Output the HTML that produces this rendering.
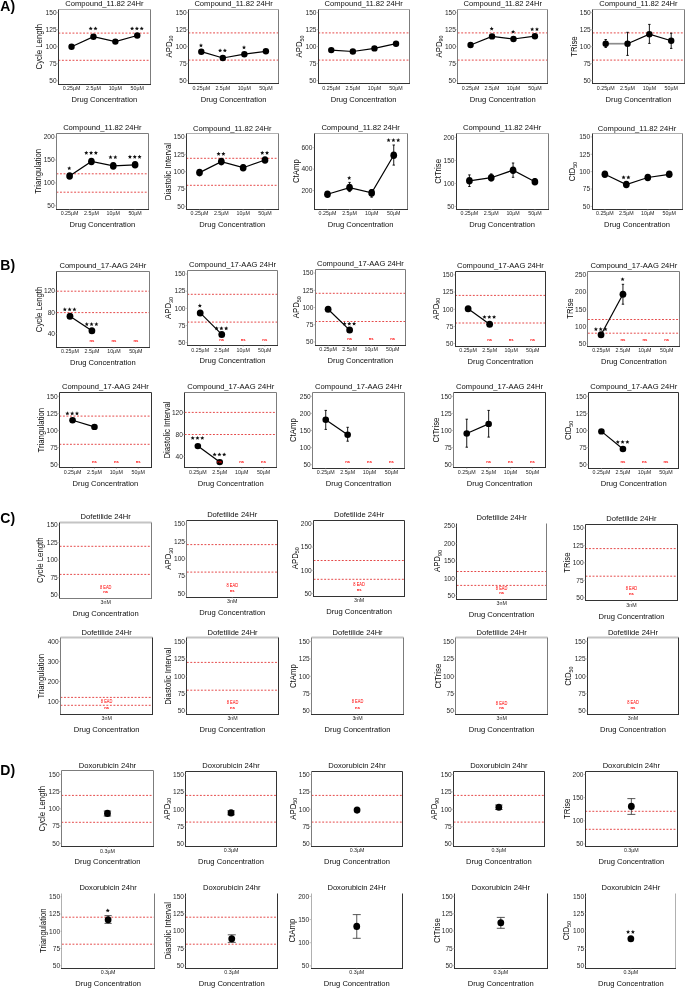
<!DOCTYPE html>
<html><head><meta charset="utf-8"><title>Figure</title>
<style>
html,body{margin:0;padding:0;background:#fff;}
body{width:685px;height:988px;overflow:hidden;}
svg{display:block;will-change:transform;}
text{font-family:"Liberation Sans",sans-serif;fill:#0d0d0d;}
.pl{font-size:14px;font-weight:bold;fill:#000;}
.ti{font-size:7.6px;text-anchor:middle;}
.yt{font-size:7.6px;text-anchor:end;fill:#262626;}
.xt{font-size:5.3px;text-anchor:middle;fill:#262626;}
.xa{font-size:7.6px;text-anchor:middle;}
.yl{font-size:8.5px;text-anchor:middle;}
.st{font-size:9.5px;text-anchor:middle;letter-spacing:1.3px;fill:#111;}
.ead{font-size:4.6px;text-anchor:middle;fill:#ff0000;}
.ns{font-size:4.2px;text-anchor:middle;fill:#ff0000;font-weight:bold;}
.fr{fill:none;stroke:#777;stroke-width:0.9;}
.ax{stroke:#333;stroke-width:1;}
.ay{stroke:#555;stroke-width:0.9;}
.tk{stroke:#999;stroke-width:0.6;}
.rd{stroke:#e23636;stroke-width:0.9;stroke-dasharray:1.9 1.63;}
.ln{fill:none;stroke:#000;stroke-width:1.2;}
.eb{fill:none;stroke:#000;stroke-width:0.9;}
.ebD{fill:none;stroke:#3a3a3a;stroke-width:0.85;}
ellipse{fill:#000;}
.sp{fill:#111;}
</style></head><body>
<svg width="685" height="988" viewBox="0 0 685 988">
<text x="0.3" y="10.9" class="pl">A)</text>
<text x="0.3" y="270.1" class="pl">B)</text>
<text x="0.3" y="523.2" class="pl">C)</text>
<text x="0.3" y="775.1" class="pl">D)</text>
<text x="104.4" y="5.9" class="ti">Compound_11.82 24Hr</text>
<line x1="58.4" x2="150.4" y1="33.1" y2="33.1" class="rd"/>
<line x1="58.4" x2="150.4" y1="60.3" y2="60.3" class="rd"/>
<line x1="58.5" x2="150.5" y1="9.5" y2="9.5" stroke="#b0b0b0" stroke-width="1.0"/>
<line x1="150.5" x2="150.5" y1="9.5" y2="84.5" stroke="#7c7c7c" stroke-width="1.0"/>
<line x1="58.5" x2="58.5" y1="9.5" y2="84.5" stroke="#333333" stroke-width="1.0"/>
<line x1="58" x2="151" y1="84.5" y2="84.5" stroke="#333333" stroke-width="1.0"/>
<line x1="56.9" x2="58.4" y1="12.6" y2="12.6" class="tk"/>
<text x="56.6" y="14.85" class="yt" textLength="11.01" lengthAdjust="spacingAndGlyphs">150</text>
<line x1="56.9" x2="58.4" y1="29.65" y2="29.65" class="tk"/>
<text x="56.6" y="31.9" class="yt" textLength="11.01" lengthAdjust="spacingAndGlyphs">125</text>
<line x1="56.9" x2="58.4" y1="46.7" y2="46.7" class="tk"/>
<text x="56.6" y="48.95" class="yt" textLength="11.01" lengthAdjust="spacingAndGlyphs">100</text>
<line x1="56.9" x2="58.4" y1="63.75" y2="63.75" class="tk"/>
<text x="56.6" y="66" class="yt" textLength="7.34" lengthAdjust="spacingAndGlyphs">75</text>
<line x1="56.9" x2="58.4" y1="80.8" y2="80.8" class="tk"/>
<text x="56.6" y="83.05" class="yt" textLength="7.34" lengthAdjust="spacingAndGlyphs">50</text>
<line x1="71.54" x2="71.54" y1="84.2" y2="85.4" class="tk"/>
<text x="71.54" y="90.1" class="xt">0.25µM</text>
<line x1="93.45" x2="93.45" y1="84.2" y2="85.4" class="tk"/>
<text x="93.45" y="90.1" class="xt">2.5µM</text>
<line x1="115.35" x2="115.35" y1="84.2" y2="85.4" class="tk"/>
<text x="115.35" y="90.1" class="xt">10µM</text>
<line x1="137.26" x2="137.26" y1="84.2" y2="85.4" class="tk"/>
<text x="137.26" y="90.1" class="xt">50µM</text>
<text x="104.4" y="102" class="xa">Drug Concentration</text>
<text transform="translate(41.95 46.7) rotate(-90)" class="yl" textLength="45.53" lengthAdjust="spacingAndGlyphs">Cycle Length</text>
<polyline points="71.54,46.7 93.45,36.7 115.35,41.6 137.26,35.5" class="ln"/>
<ellipse cx="71.54" cy="46.7" rx="3.2" ry="3.2"/>
<ellipse cx="93.45" cy="36.7" rx="3.2" ry="3.2"/>
<ellipse cx="115.35" cy="41.6" rx="3.2" ry="3.2"/>
<ellipse cx="137.26" cy="35.5" rx="3.2" ry="3.2"/>
<polygon points="90.70,26.45 91.29,27.79 92.74,27.94 91.65,28.91 91.96,30.34 90.70,29.60 89.43,30.34 89.75,28.91 88.65,27.94 90.11,27.79" class="sp"/>
<polygon points="95.50,26.45 96.09,27.79 97.54,27.94 96.45,28.91 96.76,30.34 95.50,29.60 94.23,30.34 94.55,28.91 93.45,27.94 94.91,27.79" class="sp"/>
<polygon points="132.11,26.45 132.69,27.79 134.15,27.94 133.06,28.91 133.37,30.34 132.11,29.60 130.84,30.34 131.16,28.91 130.06,27.94 131.52,27.79" class="sp"/>
<polygon points="136.91,26.45 137.49,27.79 138.95,27.94 137.86,28.91 138.17,30.34 136.91,29.60 135.64,30.34 135.96,28.91 134.86,27.94 136.32,27.79" class="sp"/>
<polygon points="141.71,26.45 142.29,27.79 143.75,27.94 142.66,28.91 142.97,30.34 141.71,29.60 140.44,30.34 140.76,28.91 139.66,27.94 141.12,27.79" class="sp"/>
<text x="233.6" y="5.9" class="ti">Compound_11.82 24Hr</text>
<line x1="188.4" x2="278.8" y1="32.9" y2="32.9" class="rd"/>
<line x1="188.4" x2="278.8" y1="60.1" y2="60.1" class="rd"/>
<line x1="188.5" x2="278.5" y1="9.5" y2="9.5" stroke="#b0b0b0" stroke-width="1.0"/>
<line x1="278.5" x2="278.5" y1="9.5" y2="83.5" stroke="#7c7c7c" stroke-width="1.0"/>
<line x1="188.5" x2="188.5" y1="9.5" y2="83.5" stroke="#333333" stroke-width="1.0"/>
<line x1="188" x2="279" y1="83.5" y2="83.5" stroke="#333333" stroke-width="1.0"/>
<line x1="186.9" x2="188.4" y1="12.6" y2="12.6" class="tk"/>
<text x="186.6" y="14.85" class="yt" textLength="11.01" lengthAdjust="spacingAndGlyphs">150</text>
<line x1="186.9" x2="188.4" y1="29.6" y2="29.6" class="tk"/>
<text x="186.6" y="31.85" class="yt" textLength="11.01" lengthAdjust="spacingAndGlyphs">125</text>
<line x1="186.9" x2="188.4" y1="46.6" y2="46.6" class="tk"/>
<text x="186.6" y="48.85" class="yt" textLength="11.01" lengthAdjust="spacingAndGlyphs">100</text>
<line x1="186.9" x2="188.4" y1="63.6" y2="63.6" class="tk"/>
<text x="186.6" y="65.85" class="yt" textLength="7.34" lengthAdjust="spacingAndGlyphs">75</text>
<line x1="186.9" x2="188.4" y1="80.6" y2="80.6" class="tk"/>
<text x="186.6" y="82.85" class="yt" textLength="7.34" lengthAdjust="spacingAndGlyphs">50</text>
<line x1="201.31" x2="201.31" y1="83.8" y2="85" class="tk"/>
<text x="201.31" y="89.7" class="xt">0.25µM</text>
<line x1="222.84" x2="222.84" y1="83.8" y2="85" class="tk"/>
<text x="222.84" y="89.7" class="xt">2.5µM</text>
<line x1="244.36" x2="244.36" y1="83.8" y2="85" class="tk"/>
<text x="244.36" y="89.7" class="xt">10µM</text>
<line x1="265.89" x2="265.89" y1="83.8" y2="85" class="tk"/>
<text x="265.89" y="89.7" class="xt">50µM</text>
<text x="233.6" y="101.6" class="xa">Drug Concentration</text>
<text transform="translate(171.5 46.5) rotate(-90)" class="yl" textLength="21.94" lengthAdjust="spacingAndGlyphs">APD<tspan dy="1.7" font-size="5.78">30</tspan></text>
<polyline points="201.31,51.7 222.84,58 244.36,54.2 265.89,51.3" class="ln"/>
<ellipse cx="201.31" cy="51.7" rx="3.2" ry="3.2"/>
<ellipse cx="222.84" cy="58" rx="3.2" ry="3.2"/>
<ellipse cx="244.36" cy="54.2" rx="3.2" ry="3.2"/>
<ellipse cx="265.89" cy="51.3" rx="3.2" ry="3.2"/>
<polygon points="200.96,43.35 201.55,44.69 203.01,44.84 201.92,45.81 202.23,47.24 200.96,46.50 199.70,47.24 200.01,45.81 198.92,44.84 200.38,44.69" class="sp"/>
<polygon points="220.09,48.45 220.68,49.79 222.13,49.94 221.04,50.91 221.35,52.34 220.09,51.60 218.82,52.34 219.14,50.91 218.04,49.94 219.50,49.79" class="sp"/>
<polygon points="224.89,48.45 225.48,49.79 226.93,49.94 225.84,50.91 226.15,52.34 224.89,51.60 223.62,52.34 223.94,50.91 222.84,49.94 224.30,49.79" class="sp"/>
<polygon points="244.01,45.35 244.60,46.69 246.06,46.84 244.96,47.81 245.28,49.24 244.01,48.50 242.75,49.24 243.06,47.81 241.97,46.84 243.42,46.69" class="sp"/>
<text x="363.65" y="5.9" class="ti">Compound_11.82 24Hr</text>
<line x1="318.3" x2="409" y1="32.9" y2="32.9" class="rd"/>
<line x1="318.3" x2="409" y1="60.1" y2="60.1" class="rd"/>
<line x1="318.5" x2="409.5" y1="9.5" y2="9.5" stroke="#b0b0b0" stroke-width="1.0"/>
<line x1="409.5" x2="409.5" y1="9.5" y2="83.5" stroke="#7c7c7c" stroke-width="1.0"/>
<line x1="318.5" x2="318.5" y1="9.5" y2="83.5" stroke="#333333" stroke-width="1.0"/>
<line x1="318" x2="410" y1="83.5" y2="83.5" stroke="#333333" stroke-width="1.0"/>
<line x1="316.8" x2="318.3" y1="12.6" y2="12.6" class="tk"/>
<text x="316.5" y="14.85" class="yt" textLength="11.01" lengthAdjust="spacingAndGlyphs">150</text>
<line x1="316.8" x2="318.3" y1="29.6" y2="29.6" class="tk"/>
<text x="316.5" y="31.85" class="yt" textLength="11.01" lengthAdjust="spacingAndGlyphs">125</text>
<line x1="316.8" x2="318.3" y1="46.6" y2="46.6" class="tk"/>
<text x="316.5" y="48.85" class="yt" textLength="11.01" lengthAdjust="spacingAndGlyphs">100</text>
<line x1="316.8" x2="318.3" y1="63.6" y2="63.6" class="tk"/>
<text x="316.5" y="65.85" class="yt" textLength="7.34" lengthAdjust="spacingAndGlyphs">75</text>
<line x1="316.8" x2="318.3" y1="80.6" y2="80.6" class="tk"/>
<text x="316.5" y="82.85" class="yt" textLength="7.34" lengthAdjust="spacingAndGlyphs">50</text>
<line x1="331.26" x2="331.26" y1="83.8" y2="85" class="tk"/>
<text x="331.26" y="89.7" class="xt">0.25µM</text>
<line x1="352.85" x2="352.85" y1="83.8" y2="85" class="tk"/>
<text x="352.85" y="89.7" class="xt">2.5µM</text>
<line x1="374.45" x2="374.45" y1="83.8" y2="85" class="tk"/>
<text x="374.45" y="89.7" class="xt">10µM</text>
<line x1="396.04" x2="396.04" y1="83.8" y2="85" class="tk"/>
<text x="396.04" y="89.7" class="xt">50µM</text>
<text x="363.65" y="101.6" class="xa">Drug Concentration</text>
<text transform="translate(302.3 46.5) rotate(-90)" class="yl" textLength="21.94" lengthAdjust="spacingAndGlyphs">APD<tspan dy="1.7" font-size="5.78">50</tspan></text>
<polyline points="331.26,50.1 352.85,51.5 374.45,48.4 396.04,43.7" class="ln"/>
<ellipse cx="331.26" cy="50.1" rx="3.2" ry="3.2"/>
<ellipse cx="352.85" cy="51.5" rx="3.2" ry="3.2"/>
<ellipse cx="374.45" cy="48.4" rx="3.2" ry="3.2"/>
<ellipse cx="396.04" cy="43.7" rx="3.2" ry="3.2"/>
<text x="502.75" y="5.9" class="ti">Compound_11.82 24Hr</text>
<line x1="457.7" x2="547.8" y1="32.9" y2="32.9" class="rd"/>
<line x1="457.7" x2="547.8" y1="60.1" y2="60.1" class="rd"/>
<line x1="457.5" x2="547.5" y1="9.5" y2="9.5" stroke="#b0b0b0" stroke-width="1.0"/>
<line x1="547.5" x2="547.5" y1="9.5" y2="83.5" stroke="#7c7c7c" stroke-width="1.0"/>
<line x1="457.5" x2="457.5" y1="9.5" y2="83.5" stroke="#7c7c7c" stroke-width="1.0"/>
<line x1="457" x2="548" y1="83.5" y2="83.5" stroke="#333333" stroke-width="1.0"/>
<line x1="456.2" x2="457.7" y1="12.6" y2="12.6" class="tk"/>
<text x="455.9" y="14.85" class="yt" textLength="11.01" lengthAdjust="spacingAndGlyphs">150</text>
<line x1="456.2" x2="457.7" y1="29.6" y2="29.6" class="tk"/>
<text x="455.9" y="31.85" class="yt" textLength="11.01" lengthAdjust="spacingAndGlyphs">125</text>
<line x1="456.2" x2="457.7" y1="46.6" y2="46.6" class="tk"/>
<text x="455.9" y="48.85" class="yt" textLength="11.01" lengthAdjust="spacingAndGlyphs">100</text>
<line x1="456.2" x2="457.7" y1="63.6" y2="63.6" class="tk"/>
<text x="455.9" y="65.85" class="yt" textLength="7.34" lengthAdjust="spacingAndGlyphs">75</text>
<line x1="456.2" x2="457.7" y1="80.6" y2="80.6" class="tk"/>
<text x="455.9" y="82.85" class="yt" textLength="7.34" lengthAdjust="spacingAndGlyphs">50</text>
<line x1="470.57" x2="470.57" y1="83.8" y2="85" class="tk"/>
<text x="470.57" y="89.7" class="xt">0.25µM</text>
<line x1="492.02" x2="492.02" y1="83.8" y2="85" class="tk"/>
<text x="492.02" y="89.7" class="xt">2.5µM</text>
<line x1="513.48" x2="513.48" y1="83.8" y2="85" class="tk"/>
<text x="513.48" y="89.7" class="xt">10µM</text>
<line x1="534.93" x2="534.93" y1="83.8" y2="85" class="tk"/>
<text x="534.93" y="89.7" class="xt">50µM</text>
<text x="502.75" y="101.6" class="xa">Drug Concentration</text>
<text transform="translate(441.6 46.5) rotate(-90)" class="yl" textLength="21.94" lengthAdjust="spacingAndGlyphs">APD<tspan dy="1.7" font-size="5.78">90</tspan></text>
<polyline points="470.57,45 492.02,36.4 513.48,39 534.93,36.2" class="ln"/>
<ellipse cx="470.57" cy="45" rx="3.2" ry="3.2"/>
<ellipse cx="492.02" cy="36.4" rx="3.2" ry="3.2"/>
<ellipse cx="513.48" cy="39" rx="3.2" ry="3.2"/>
<ellipse cx="534.93" cy="36.2" rx="3.2" ry="3.2"/>
<polygon points="491.67,26.55 492.26,27.89 493.72,28.04 492.62,29.01 492.94,30.44 491.67,29.70 490.41,30.44 490.72,29.01 489.63,28.04 491.09,27.89" class="sp"/>
<polygon points="513.13,29.65 513.71,30.99 515.17,31.14 514.08,32.11 514.39,33.54 513.13,32.80 511.86,33.54 512.18,32.11 511.08,31.14 512.54,30.99" class="sp"/>
<polygon points="532.18,27.15 532.77,28.49 534.22,28.64 533.13,29.61 533.44,31.04 532.18,30.30 530.91,31.04 531.23,29.61 530.13,28.64 531.59,28.49" class="sp"/>
<polygon points="536.98,27.15 537.57,28.49 539.02,28.64 537.93,29.61 538.24,31.04 536.98,30.30 535.71,31.04 536.03,29.61 534.93,28.64 536.39,28.49" class="sp"/>
<text x="638.45" y="5.9" class="ti">Compound_11.82 24Hr</text>
<line x1="592.6" x2="684.3" y1="32.9" y2="32.9" class="rd"/>
<line x1="592.6" x2="684.3" y1="60.1" y2="60.1" class="rd"/>
<line x1="592.5" x2="684.5" y1="9.5" y2="9.5" stroke="#b0b0b0" stroke-width="1.0"/>
<line x1="684.5" x2="684.5" y1="9.5" y2="83.5" stroke="#7c7c7c" stroke-width="1.0"/>
<line x1="592.5" x2="592.5" y1="9.5" y2="83.5" stroke="#333333" stroke-width="1.0"/>
<line x1="592" x2="685" y1="83.5" y2="83.5" stroke="#333333" stroke-width="1.0"/>
<line x1="591.1" x2="592.6" y1="12.6" y2="12.6" class="tk"/>
<text x="590.8" y="14.85" class="yt" textLength="11.01" lengthAdjust="spacingAndGlyphs">150</text>
<line x1="591.1" x2="592.6" y1="29.6" y2="29.6" class="tk"/>
<text x="590.8" y="31.85" class="yt" textLength="11.01" lengthAdjust="spacingAndGlyphs">125</text>
<line x1="591.1" x2="592.6" y1="46.6" y2="46.6" class="tk"/>
<text x="590.8" y="48.85" class="yt" textLength="11.01" lengthAdjust="spacingAndGlyphs">100</text>
<line x1="591.1" x2="592.6" y1="63.6" y2="63.6" class="tk"/>
<text x="590.8" y="65.85" class="yt" textLength="7.34" lengthAdjust="spacingAndGlyphs">75</text>
<line x1="591.1" x2="592.6" y1="80.6" y2="80.6" class="tk"/>
<text x="590.8" y="82.85" class="yt" textLength="7.34" lengthAdjust="spacingAndGlyphs">50</text>
<line x1="605.7" x2="605.7" y1="83.8" y2="85" class="tk"/>
<text x="605.7" y="89.7" class="xt">0.25µM</text>
<line x1="627.53" x2="627.53" y1="83.8" y2="85" class="tk"/>
<text x="627.53" y="89.7" class="xt">2.5µM</text>
<line x1="649.37" x2="649.37" y1="83.8" y2="85" class="tk"/>
<text x="649.37" y="89.7" class="xt">10µM</text>
<line x1="671.2" x2="671.2" y1="83.8" y2="85" class="tk"/>
<text x="671.2" y="89.7" class="xt">50µM</text>
<text x="638.45" y="101.6" class="xa">Drug Concentration</text>
<text transform="translate(577.3 46.5) rotate(-90)" class="yl" textLength="20.37" lengthAdjust="spacingAndGlyphs">TRise</text>
<line x1="605.7" y1="43.7" x2="627.53" y2="43.7" stroke="#8c8c8c" stroke-width="1.7"/>
<polyline points="627.53,43.7 649.37,34.2 671.2,40.8" class="ln"/>
<path d="M605.7 39.5V47.5M604.5 39.5H606.9M604.5 47.5H606.9" class="eb"/>
<path d="M627.53 32.3V55.4M626.33 32.3H628.73M626.33 55.4H628.73" class="eb"/>
<path d="M649.37 24.4V43.4M648.17 24.4H650.57M648.17 43.4H650.57" class="eb"/>
<path d="M671.2 33.2V48.4M670 33.2H672.4M670 48.4H672.4" class="eb"/>
<ellipse cx="605.7" cy="43.7" rx="3.2" ry="3.2"/>
<ellipse cx="627.53" cy="43.7" rx="3.2" ry="3.2"/>
<ellipse cx="649.37" cy="34.2" rx="3.2" ry="3.2"/>
<ellipse cx="671.2" cy="40.8" rx="3.2" ry="3.2"/>
<text x="102.35" y="130.2" class="ti">Compound_11.82 24Hr</text>
<line x1="56.5" x2="148.2" y1="173.8" y2="173.8" class="rd"/>
<line x1="56.5" x2="148.2" y1="192.2" y2="192.2" class="rd"/>
<line x1="56.5" x2="148.5" y1="133.5" y2="133.5" stroke="#7c7c7c" stroke-width="1.0"/>
<line x1="148.5" x2="148.5" y1="133.5" y2="209.5" stroke="#7c7c7c" stroke-width="1.0"/>
<line x1="56.5" x2="56.5" y1="133.5" y2="209.5" stroke="#7c7c7c" stroke-width="1.0"/>
<line x1="56" x2="149" y1="209.5" y2="209.5" stroke="#333333" stroke-width="1.0"/>
<line x1="55" x2="56.5" y1="137.2" y2="137.2" class="tk"/>
<text x="54.7" y="139.45" class="yt" textLength="11.01" lengthAdjust="spacingAndGlyphs">200</text>
<line x1="55" x2="56.5" y1="160.07" y2="160.07" class="tk"/>
<text x="54.7" y="162.32" class="yt" textLength="11.01" lengthAdjust="spacingAndGlyphs">150</text>
<line x1="55" x2="56.5" y1="182.93" y2="182.93" class="tk"/>
<text x="54.7" y="185.18" class="yt" textLength="11.01" lengthAdjust="spacingAndGlyphs">100</text>
<line x1="55" x2="56.5" y1="205.8" y2="205.8" class="tk"/>
<text x="54.7" y="208.05" class="yt" textLength="7.34" lengthAdjust="spacingAndGlyphs">50</text>
<line x1="69.6" x2="69.6" y1="209.2" y2="210.4" class="tk"/>
<text x="69.6" y="215.1" class="xt">0.25µM</text>
<line x1="91.43" x2="91.43" y1="209.2" y2="210.4" class="tk"/>
<text x="91.43" y="215.1" class="xt">2.5µM</text>
<line x1="113.27" x2="113.27" y1="209.2" y2="210.4" class="tk"/>
<text x="113.27" y="215.1" class="xt">10µM</text>
<line x1="135.1" x2="135.1" y1="209.2" y2="210.4" class="tk"/>
<text x="135.1" y="215.1" class="xt">50µM</text>
<text x="102.35" y="227" class="xa">Drug Concentration</text>
<text transform="translate(41.1 171.35) rotate(-90)" class="yl" textLength="44.8" lengthAdjust="spacingAndGlyphs">Triangulation</text>
<polyline points="69.6,176 91.43,161.5 113.27,165.9 135.1,164.8" class="ln"/>
<ellipse cx="69.6" cy="176" rx="3.35" ry="3.8"/>
<ellipse cx="91.43" cy="161.5" rx="3.35" ry="3.8"/>
<ellipse cx="113.27" cy="165.9" rx="3.35" ry="3.8"/>
<ellipse cx="135.1" cy="164.8" rx="3.35" ry="3.8"/>
<polygon points="69.25,166.15 69.84,167.49 71.29,167.64 70.20,168.61 70.51,170.04 69.25,169.30 67.99,170.04 68.30,168.61 67.21,167.64 68.66,167.49" class="sp"/>
<polygon points="86.28,150.75 86.87,152.09 88.33,152.24 87.23,153.21 87.55,154.64 86.28,153.90 85.02,154.64 85.33,153.21 84.24,152.24 85.70,152.09" class="sp"/>
<polygon points="91.08,150.75 91.67,152.09 93.13,152.24 92.03,153.21 92.35,154.64 91.08,153.90 89.82,154.64 90.13,153.21 89.04,152.24 90.50,152.09" class="sp"/>
<polygon points="95.88,150.75 96.47,152.09 97.93,152.24 96.83,153.21 97.15,154.64 95.88,153.90 94.62,154.64 94.93,153.21 93.84,152.24 95.30,152.09" class="sp"/>
<polygon points="110.52,155.05 111.10,156.39 112.56,156.54 111.47,157.51 111.78,158.94 110.52,158.20 109.25,158.94 109.57,157.51 108.47,156.54 109.93,156.39" class="sp"/>
<polygon points="115.32,155.05 115.90,156.39 117.36,156.54 116.27,157.51 116.58,158.94 115.32,158.20 114.05,158.94 114.37,157.51 113.27,156.54 114.73,156.39" class="sp"/>
<polygon points="129.95,154.75 130.54,156.09 131.99,156.24 130.90,157.21 131.21,158.64 129.95,157.90 128.69,158.64 129.00,157.21 127.91,156.24 129.36,156.09" class="sp"/>
<polygon points="134.75,154.75 135.34,156.09 136.79,156.24 135.70,157.21 136.01,158.64 134.75,157.90 133.49,158.64 133.80,157.21 132.71,156.24 134.16,156.09" class="sp"/>
<polygon points="139.55,154.75 140.14,156.09 141.59,156.24 140.50,157.21 140.81,158.64 139.55,157.90 138.29,158.64 138.60,157.21 137.51,156.24 138.96,156.09" class="sp"/>
<text x="232.25" y="130.5" class="ti">Compound_11.82 24Hr</text>
<line x1="186.4" x2="278.1" y1="158.3" y2="158.3" class="rd"/>
<line x1="186.4" x2="278.1" y1="185.3" y2="185.3" class="rd"/>
<line x1="186.5" x2="278.5" y1="133.5" y2="133.5" stroke="#b0b0b0" stroke-width="1.0"/>
<line x1="278.5" x2="278.5" y1="133.5" y2="209.5" stroke="#7c7c7c" stroke-width="1.0"/>
<line x1="186.5" x2="186.5" y1="133.5" y2="209.5" stroke="#333333" stroke-width="1.0"/>
<line x1="186" x2="279" y1="209.5" y2="209.5" stroke="#333333" stroke-width="1.0"/>
<line x1="184.9" x2="186.4" y1="137" y2="137" class="tk"/>
<text x="184.6" y="139.25" class="yt" textLength="11.01" lengthAdjust="spacingAndGlyphs">150</text>
<line x1="184.9" x2="186.4" y1="154.35" y2="154.35" class="tk"/>
<text x="184.6" y="156.6" class="yt" textLength="11.01" lengthAdjust="spacingAndGlyphs">125</text>
<line x1="184.9" x2="186.4" y1="171.7" y2="171.7" class="tk"/>
<text x="184.6" y="173.95" class="yt" textLength="11.01" lengthAdjust="spacingAndGlyphs">100</text>
<line x1="184.9" x2="186.4" y1="189.05" y2="189.05" class="tk"/>
<text x="184.6" y="191.3" class="yt" textLength="7.34" lengthAdjust="spacingAndGlyphs">75</text>
<line x1="184.9" x2="186.4" y1="206.4" y2="206.4" class="tk"/>
<text x="184.6" y="208.65" class="yt" textLength="7.34" lengthAdjust="spacingAndGlyphs">50</text>
<line x1="199.5" x2="199.5" y1="209.4" y2="210.6" class="tk"/>
<text x="199.5" y="215.3" class="xt">0.25µM</text>
<line x1="221.33" x2="221.33" y1="209.4" y2="210.6" class="tk"/>
<text x="221.33" y="215.3" class="xt">2.5µM</text>
<line x1="243.17" x2="243.17" y1="209.4" y2="210.6" class="tk"/>
<text x="243.17" y="215.3" class="xt">10µM</text>
<line x1="265" x2="265" y1="209.4" y2="210.6" class="tk"/>
<text x="265" y="215.3" class="xt">50µM</text>
<text x="232.25" y="227.2" class="xa">Drug Concentration</text>
<text transform="translate(170.7 171.6) rotate(-90)" class="yl" textLength="57.22" lengthAdjust="spacingAndGlyphs">Diastolic Interval</text>
<polyline points="199.5,172.6 221.33,161.6 243.17,167.7 265,160" class="ln"/>
<path d="M243.17 165V170M241.97 165H244.37M241.97 170H244.37" class="eb"/>
<ellipse cx="199.5" cy="172.6" rx="3.35" ry="3.8"/>
<ellipse cx="221.33" cy="161.6" rx="3.35" ry="3.8"/>
<ellipse cx="243.17" cy="167.7" rx="3.35" ry="3.8"/>
<ellipse cx="265" cy="160" rx="3.35" ry="3.8"/>
<polygon points="218.58,151.75 219.17,153.09 220.63,153.24 219.53,154.21 219.85,155.64 218.58,154.90 217.32,155.64 217.63,154.21 216.54,153.24 218.00,153.09" class="sp"/>
<polygon points="223.38,151.75 223.97,153.09 225.43,153.24 224.33,154.21 224.65,155.64 223.38,154.90 222.12,155.64 222.43,154.21 221.34,153.24 222.80,153.09" class="sp"/>
<polygon points="262.25,150.75 262.84,152.09 264.29,152.24 263.20,153.21 263.51,154.64 262.25,153.90 260.99,154.64 261.30,153.21 260.21,152.24 261.66,152.09" class="sp"/>
<polygon points="267.05,150.75 267.64,152.09 269.09,152.24 268.00,153.21 268.31,154.64 267.05,153.90 265.79,154.64 266.10,153.21 265.01,152.24 266.46,152.09" class="sp"/>
<text x="360.6" y="130.1" class="ti">Compound_11.82 24Hr</text>
<line x1="314.5" x2="407.5" y1="133.5" y2="133.5" stroke="#b0b0b0" stroke-width="1.0"/>
<line x1="407.5" x2="407.5" y1="133.5" y2="209.5" stroke="#7c7c7c" stroke-width="1.0"/>
<line x1="314.5" x2="314.5" y1="133.5" y2="209.5" stroke="#333333" stroke-width="1.0"/>
<line x1="314" x2="408" y1="209.5" y2="209.5" stroke="#333333" stroke-width="1.0"/>
<line x1="312.7" x2="314.2" y1="147.7" y2="147.7" class="tk"/>
<text x="312.4" y="149.95" class="yt" textLength="11.01" lengthAdjust="spacingAndGlyphs">600</text>
<line x1="312.7" x2="314.2" y1="169.2" y2="169.2" class="tk"/>
<text x="312.4" y="171.45" class="yt" textLength="11.01" lengthAdjust="spacingAndGlyphs">400</text>
<line x1="312.7" x2="314.2" y1="190.6" y2="190.6" class="tk"/>
<text x="312.4" y="192.85" class="yt" textLength="11.01" lengthAdjust="spacingAndGlyphs">200</text>
<line x1="327.46" x2="327.46" y1="209" y2="210.2" class="tk"/>
<text x="327.46" y="214.9" class="xt">0.25µM</text>
<line x1="349.55" x2="349.55" y1="209" y2="210.2" class="tk"/>
<text x="349.55" y="214.9" class="xt">2.5µM</text>
<line x1="371.65" x2="371.65" y1="209" y2="210.2" class="tk"/>
<text x="371.65" y="214.9" class="xt">10µM</text>
<line x1="393.74" x2="393.74" y1="209" y2="210.2" class="tk"/>
<text x="393.74" y="214.9" class="xt">50µM</text>
<text x="360.6" y="226.8" class="xa">Drug Concentration</text>
<text transform="translate(298.6 171.2) rotate(-90)" class="yl" textLength="23.84" lengthAdjust="spacingAndGlyphs">CtAmp</text>
<polyline points="327.46,194.3 349.55,187.6 371.65,192.9 393.74,155.3" class="ln"/>
<path d="M327.46 192.5V196M326.26 192.5H328.66M326.26 196H328.66" class="eb"/>
<path d="M349.55 182.4V191.6M348.35 182.4H350.75M348.35 191.6H350.75" class="eb"/>
<path d="M371.65 189.6V197.2M370.45 189.6H372.85M370.45 197.2H372.85" class="eb"/>
<path d="M393.74 145V165.1M392.54 145H394.94M392.54 165.1H394.94" class="eb"/>
<ellipse cx="327.46" cy="194.3" rx="3.35" ry="3.8"/>
<ellipse cx="349.55" cy="187.6" rx="3.35" ry="3.8"/>
<ellipse cx="371.65" cy="192.9" rx="3.35" ry="3.8"/>
<ellipse cx="393.74" cy="155.3" rx="3.35" ry="3.8"/>
<polygon points="349.20,175.85 349.79,177.19 351.25,177.34 350.15,178.31 350.47,179.74 349.20,179.00 347.94,179.74 348.25,178.31 347.16,177.34 348.61,177.19" class="sp"/>
<polygon points="388.59,138.05 389.18,139.39 390.64,139.54 389.54,140.51 389.86,141.94 388.59,141.20 387.33,141.94 387.64,140.51 386.55,139.54 388.01,139.39" class="sp"/>
<polygon points="393.39,138.05 393.98,139.39 395.44,139.54 394.34,140.51 394.66,141.94 393.39,141.20 392.13,141.94 392.44,140.51 391.35,139.54 392.81,139.39" class="sp"/>
<polygon points="398.19,138.05 398.78,139.39 400.24,139.54 399.14,140.51 399.46,141.94 398.19,141.20 396.93,141.94 397.24,140.51 396.15,139.54 397.61,139.39" class="sp"/>
<text x="502.15" y="130.1" class="ti">Compound_11.82 24Hr</text>
<line x1="456.5" x2="548.5" y1="133.5" y2="133.5" stroke="#b0b0b0" stroke-width="1.0"/>
<line x1="548.5" x2="548.5" y1="133.5" y2="209.5" stroke="#7c7c7c" stroke-width="1.0"/>
<line x1="456.5" x2="456.5" y1="133.5" y2="209.5" stroke="#333333" stroke-width="1.0"/>
<line x1="456" x2="549" y1="209.5" y2="209.5" stroke="#333333" stroke-width="1.0"/>
<line x1="454.8" x2="456.3" y1="137.5" y2="137.5" class="tk"/>
<text x="454.5" y="139.75" class="yt" textLength="11.01" lengthAdjust="spacingAndGlyphs">200</text>
<line x1="454.8" x2="456.3" y1="160.47" y2="160.47" class="tk"/>
<text x="454.5" y="162.72" class="yt" textLength="11.01" lengthAdjust="spacingAndGlyphs">150</text>
<line x1="454.8" x2="456.3" y1="183.43" y2="183.43" class="tk"/>
<text x="454.5" y="185.68" class="yt" textLength="11.01" lengthAdjust="spacingAndGlyphs">100</text>
<line x1="454.8" x2="456.3" y1="206.4" y2="206.4" class="tk"/>
<text x="454.5" y="208.65" class="yt" textLength="7.34" lengthAdjust="spacingAndGlyphs">50</text>
<line x1="469.4" x2="469.4" y1="209.4" y2="210.6" class="tk"/>
<text x="469.4" y="215.3" class="xt">0.25µM</text>
<line x1="491.23" x2="491.23" y1="209.4" y2="210.6" class="tk"/>
<text x="491.23" y="215.3" class="xt">2.5µM</text>
<line x1="513.07" x2="513.07" y1="209.4" y2="210.6" class="tk"/>
<text x="513.07" y="215.3" class="xt">10µM</text>
<line x1="534.9" x2="534.9" y1="209.4" y2="210.6" class="tk"/>
<text x="534.9" y="215.3" class="xt">50µM</text>
<text x="502.15" y="227.2" class="xa">Drug Concentration</text>
<text transform="translate(441 171.4) rotate(-90)" class="yl" textLength="24.84" lengthAdjust="spacingAndGlyphs">CtTrise</text>
<polyline points="469.4,180.8 491.23,177.7 513.07,170.2 534.9,181.8" class="ln"/>
<path d="M469.4 174.9V186.5M468.2 174.9H470.6M468.2 186.5H470.6" class="eb"/>
<path d="M491.23 173.9V180.8M490.03 173.9H492.43M490.03 180.8H492.43" class="eb"/>
<path d="M513.07 163V177.3M511.87 163H514.27M511.87 177.3H514.27" class="eb"/>
<path d="M534.9 178.5V184.5M533.7 178.5H536.1M533.7 184.5H536.1" class="eb"/>
<ellipse cx="469.4" cy="180.8" rx="3.35" ry="3.8"/>
<ellipse cx="491.23" cy="177.7" rx="3.35" ry="3.8"/>
<ellipse cx="513.07" cy="170.2" rx="3.35" ry="3.8"/>
<ellipse cx="534.9" cy="181.8" rx="3.35" ry="3.8"/>
<text x="637.05" y="130.5" class="ti">Compound_11.82 24Hr</text>
<line x1="592.5" x2="682.5" y1="133.5" y2="133.5" stroke="#b0b0b0" stroke-width="1.0"/>
<line x1="682.5" x2="682.5" y1="133.5" y2="209.5" stroke="#7c7c7c" stroke-width="1.0"/>
<line x1="592.5" x2="592.5" y1="133.5" y2="209.5" stroke="#333333" stroke-width="1.0"/>
<line x1="592" x2="683" y1="209.5" y2="209.5" stroke="#333333" stroke-width="1.0"/>
<line x1="590.5" x2="592" y1="136.9" y2="136.9" class="tk"/>
<text x="590.2" y="139.15" class="yt" textLength="11.01" lengthAdjust="spacingAndGlyphs">150</text>
<line x1="590.5" x2="592" y1="154.28" y2="154.28" class="tk"/>
<text x="590.2" y="156.53" class="yt" textLength="11.01" lengthAdjust="spacingAndGlyphs">125</text>
<line x1="590.5" x2="592" y1="171.65" y2="171.65" class="tk"/>
<text x="590.2" y="173.9" class="yt" textLength="11.01" lengthAdjust="spacingAndGlyphs">100</text>
<line x1="590.5" x2="592" y1="189.03" y2="189.03" class="tk"/>
<text x="590.2" y="191.28" class="yt" textLength="7.34" lengthAdjust="spacingAndGlyphs">75</text>
<line x1="590.5" x2="592" y1="206.4" y2="206.4" class="tk"/>
<text x="590.2" y="208.65" class="yt" textLength="7.34" lengthAdjust="spacingAndGlyphs">50</text>
<line x1="604.87" x2="604.87" y1="209.4" y2="210.6" class="tk"/>
<text x="604.87" y="215.3" class="xt">0.25µM</text>
<line x1="626.32" x2="626.32" y1="209.4" y2="210.6" class="tk"/>
<text x="626.32" y="215.3" class="xt">2.5µM</text>
<line x1="647.78" x2="647.78" y1="209.4" y2="210.6" class="tk"/>
<text x="647.78" y="215.3" class="xt">10µM</text>
<line x1="669.23" x2="669.23" y1="209.4" y2="210.6" class="tk"/>
<text x="669.23" y="215.3" class="xt">50µM</text>
<text x="637.05" y="227.2" class="xa">Drug Concentration</text>
<text transform="translate(575 171.6) rotate(-90)" class="yl" textLength="19.33" lengthAdjust="spacingAndGlyphs">CtD<tspan dy="1.7" font-size="5.78">50</tspan></text>
<polyline points="604.87,174.3 626.32,184.5 647.78,177.5 669.23,174.3" class="ln"/>
<ellipse cx="604.87" cy="174.3" rx="3.35" ry="3.8"/>
<ellipse cx="626.32" cy="184.5" rx="3.35" ry="3.8"/>
<ellipse cx="647.78" cy="177.5" rx="3.35" ry="3.8"/>
<ellipse cx="669.23" cy="174.3" rx="3.35" ry="3.8"/>
<polygon points="623.57,175.25 624.16,176.59 625.62,176.74 624.52,177.71 624.84,179.14 623.57,178.40 622.31,179.14 622.62,177.71 621.53,176.74 622.99,176.59" class="sp"/>
<polygon points="628.37,175.25 628.96,176.59 630.42,176.74 629.32,177.71 629.64,179.14 628.37,178.40 627.11,179.14 627.42,177.71 626.33,176.74 627.79,176.59" class="sp"/>
<text x="102.9" y="268.2" class="ti">Compound_17-AAG 24Hr</text>
<line x1="56.8" x2="149" y1="291.2" y2="291.2" class="rd"/>
<line x1="56.8" x2="149" y1="312.6" y2="312.6" class="rd"/>
<line x1="56.5" x2="149.5" y1="271.5" y2="271.5" stroke="#7c7c7c" stroke-width="1.0"/>
<line x1="149.5" x2="149.5" y1="271.5" y2="347.5" stroke="#7c7c7c" stroke-width="1.0"/>
<line x1="56.5" x2="56.5" y1="271.5" y2="347.5" stroke="#333333" stroke-width="1.0"/>
<line x1="56" x2="150" y1="347.5" y2="347.5" stroke="#333333" stroke-width="1.0"/>
<line x1="55.3" x2="56.8" y1="291.2" y2="291.2" class="tk"/>
<text x="55" y="293.45" class="yt" textLength="11.01" lengthAdjust="spacingAndGlyphs">120</text>
<line x1="55.3" x2="56.8" y1="312.6" y2="312.6" class="tk"/>
<text x="55" y="314.85" class="yt" textLength="7.34" lengthAdjust="spacingAndGlyphs">80</text>
<line x1="55.3" x2="56.8" y1="333.6" y2="333.6" class="tk"/>
<text x="55" y="335.85" class="yt" textLength="7.34" lengthAdjust="spacingAndGlyphs">40</text>
<line x1="69.97" x2="69.97" y1="347.4" y2="348.6" class="tk"/>
<text x="69.97" y="353.3" class="xt">0.25µM</text>
<line x1="91.92" x2="91.92" y1="347.4" y2="348.6" class="tk"/>
<text x="91.92" y="353.3" class="xt">2.5µM</text>
<line x1="113.88" x2="113.88" y1="347.4" y2="348.6" class="tk"/>
<text x="113.88" y="353.3" class="xt">10µM</text>
<line x1="135.83" x2="135.83" y1="347.4" y2="348.6" class="tk"/>
<text x="135.83" y="353.3" class="xt">50µM</text>
<text x="102.9" y="365.2" class="xa">Drug Concentration</text>
<text transform="translate(42.05 309.45) rotate(-90)" class="yl" textLength="45.53" lengthAdjust="spacingAndGlyphs">Cycle Length</text>
<polyline points="69.97,316.2 91.92,330.7" class="ln"/>
<ellipse cx="69.97" cy="316.2" rx="3.4" ry="3.5"/>
<ellipse cx="91.92" cy="330.7" rx="3.4" ry="3.5"/>
<polygon points="64.82,307.35 65.41,308.69 66.87,308.84 65.77,309.81 66.09,311.24 64.82,310.50 63.56,311.24 63.87,309.81 62.78,308.84 64.23,308.69" class="sp"/>
<polygon points="69.62,307.35 70.21,308.69 71.67,308.84 70.57,309.81 70.89,311.24 69.62,310.50 68.36,311.24 68.67,309.81 67.58,308.84 69.03,308.69" class="sp"/>
<polygon points="74.42,307.35 75.01,308.69 76.47,308.84 75.37,309.81 75.69,311.24 74.42,310.50 73.16,311.24 73.47,309.81 72.38,308.84 73.83,308.69" class="sp"/>
<polygon points="86.77,322.05 87.36,323.39 88.82,323.54 87.72,324.51 88.04,325.94 86.77,325.20 85.51,325.94 85.82,324.51 84.73,323.54 86.19,323.39" class="sp"/>
<polygon points="91.57,322.05 92.16,323.39 93.62,323.54 92.52,324.51 92.84,325.94 91.57,325.20 90.31,325.94 90.62,324.51 89.53,323.54 90.99,323.39" class="sp"/>
<polygon points="96.37,322.05 96.96,323.39 98.42,323.54 97.32,324.51 97.64,325.94 96.37,325.20 95.11,325.94 95.42,324.51 94.33,323.54 95.79,323.39" class="sp"/>
<text x="91.92" y="342.1" class="ns">ns</text>
<text x="113.88" y="342.1" class="ns">ns</text>
<text x="135.83" y="342.1" class="ns">ns</text>
<text x="232.5" y="267.1" class="ti">Compound_17-AAG 24Hr</text>
<line x1="187.3" x2="277.7" y1="294.3" y2="294.3" class="rd"/>
<line x1="187.3" x2="277.7" y1="322.1" y2="322.1" class="rd"/>
<line x1="187.5" x2="277.5" y1="270.5" y2="270.5" stroke="#7c7c7c" stroke-width="1.0"/>
<line x1="277.5" x2="277.5" y1="270.5" y2="345.5" stroke="#7c7c7c" stroke-width="1.0"/>
<line x1="187.5" x2="187.5" y1="270.5" y2="345.5" stroke="#7c7c7c" stroke-width="1.0"/>
<line x1="187" x2="278" y1="345.5" y2="345.5" stroke="#333333" stroke-width="1.0"/>
<line x1="185.8" x2="187.3" y1="274.1" y2="274.1" class="tk"/>
<text x="185.5" y="276.35" class="yt" textLength="11.01" lengthAdjust="spacingAndGlyphs">150</text>
<line x1="185.8" x2="187.3" y1="291.23" y2="291.23" class="tk"/>
<text x="185.5" y="293.48" class="yt" textLength="11.01" lengthAdjust="spacingAndGlyphs">125</text>
<line x1="185.8" x2="187.3" y1="308.35" y2="308.35" class="tk"/>
<text x="185.5" y="310.6" class="yt" textLength="11.01" lengthAdjust="spacingAndGlyphs">100</text>
<line x1="185.8" x2="187.3" y1="325.48" y2="325.48" class="tk"/>
<text x="185.5" y="327.73" class="yt" textLength="7.34" lengthAdjust="spacingAndGlyphs">75</text>
<line x1="185.8" x2="187.3" y1="342.6" y2="342.6" class="tk"/>
<text x="185.5" y="344.85" class="yt" textLength="7.34" lengthAdjust="spacingAndGlyphs">50</text>
<line x1="200.21" x2="200.21" y1="345.6" y2="346.8" class="tk"/>
<text x="200.21" y="351.5" class="xt">0.25µM</text>
<line x1="221.74" x2="221.74" y1="345.6" y2="346.8" class="tk"/>
<text x="221.74" y="351.5" class="xt">2.5µM</text>
<line x1="243.26" x2="243.26" y1="345.6" y2="346.8" class="tk"/>
<text x="243.26" y="351.5" class="xt">10µM</text>
<line x1="264.79" x2="264.79" y1="345.6" y2="346.8" class="tk"/>
<text x="264.79" y="351.5" class="xt">50µM</text>
<text x="232.5" y="363.4" class="xa">Drug Concentration</text>
<text transform="translate(171.3 308) rotate(-90)" class="yl" textLength="21.94" lengthAdjust="spacingAndGlyphs">APD<tspan dy="1.7" font-size="5.78">30</tspan></text>
<polyline points="200.21,312.9 221.74,334.4" class="ln"/>
<ellipse cx="200.21" cy="312.9" rx="3.4" ry="3.5"/>
<ellipse cx="221.74" cy="334.4" rx="3.4" ry="3.5"/>
<polygon points="199.86,303.55 200.45,304.89 201.91,305.04 200.82,306.01 201.13,307.44 199.86,306.70 198.60,307.44 198.91,306.01 197.82,305.04 199.28,304.89" class="sp"/>
<polygon points="216.59,326.25 217.18,327.59 218.63,327.74 217.54,328.71 217.85,330.14 216.59,329.40 215.32,330.14 215.64,328.71 214.54,327.74 216.00,327.59" class="sp"/>
<polygon points="221.39,326.25 221.98,327.59 223.43,327.74 222.34,328.71 222.65,330.14 221.39,329.40 220.12,330.14 220.44,328.71 219.34,327.74 220.80,327.59" class="sp"/>
<polygon points="226.19,326.25 226.78,327.59 228.23,327.74 227.14,328.71 227.45,330.14 226.19,329.40 224.92,330.14 225.24,328.71 224.14,327.74 225.60,327.59" class="sp"/>
<text x="221.74" y="340.6" class="ns">ns</text>
<text x="243.26" y="340.6" class="ns">ns</text>
<text x="264.79" y="340.6" class="ns">ns</text>
<text x="360.4" y="266.1" class="ti">Compound_17-AAG 24Hr</text>
<line x1="315.2" x2="405.6" y1="293.3" y2="293.3" class="rd"/>
<line x1="315.2" x2="405.6" y1="321.5" y2="321.5" class="rd"/>
<line x1="315.5" x2="405.5" y1="269.5" y2="269.5" stroke="#7c7c7c" stroke-width="1.0"/>
<line x1="405.5" x2="405.5" y1="269.5" y2="345.5" stroke="#7c7c7c" stroke-width="1.0"/>
<line x1="315.5" x2="315.5" y1="269.5" y2="345.5" stroke="#7c7c7c" stroke-width="1.0"/>
<line x1="315" x2="406" y1="345.5" y2="345.5" stroke="#333333" stroke-width="1.0"/>
<line x1="313.7" x2="315.2" y1="273.1" y2="273.1" class="tk"/>
<text x="313.4" y="275.35" class="yt" textLength="11.01" lengthAdjust="spacingAndGlyphs">150</text>
<line x1="313.7" x2="315.2" y1="290.33" y2="290.33" class="tk"/>
<text x="313.4" y="292.58" class="yt" textLength="11.01" lengthAdjust="spacingAndGlyphs">125</text>
<line x1="313.7" x2="315.2" y1="307.55" y2="307.55" class="tk"/>
<text x="313.4" y="309.8" class="yt" textLength="11.01" lengthAdjust="spacingAndGlyphs">100</text>
<line x1="313.7" x2="315.2" y1="324.77" y2="324.77" class="tk"/>
<text x="313.4" y="327.02" class="yt" textLength="7.34" lengthAdjust="spacingAndGlyphs">75</text>
<line x1="313.7" x2="315.2" y1="342" y2="342" class="tk"/>
<text x="313.4" y="344.25" class="yt" textLength="7.34" lengthAdjust="spacingAndGlyphs">50</text>
<line x1="328.11" x2="328.11" y1="345.2" y2="346.4" class="tk"/>
<text x="328.11" y="351.1" class="xt">0.25µM</text>
<line x1="349.64" x2="349.64" y1="345.2" y2="346.4" class="tk"/>
<text x="349.64" y="351.1" class="xt">2.5µM</text>
<line x1="371.16" x2="371.16" y1="345.2" y2="346.4" class="tk"/>
<text x="371.16" y="351.1" class="xt">10µM</text>
<line x1="392.69" x2="392.69" y1="345.2" y2="346.4" class="tk"/>
<text x="392.69" y="351.1" class="xt">50µM</text>
<text x="360.4" y="363" class="xa">Drug Concentration</text>
<text transform="translate(298.9 307.3) rotate(-90)" class="yl" textLength="21.94" lengthAdjust="spacingAndGlyphs">APD<tspan dy="1.7" font-size="5.78">50</tspan></text>
<polyline points="328.11,309.3 349.64,330.1" class="ln"/>
<ellipse cx="328.11" cy="309.3" rx="3.4" ry="3.5"/>
<ellipse cx="349.64" cy="330.1" rx="3.4" ry="3.5"/>
<polygon points="344.49,321.55 345.08,322.89 346.53,323.04 345.44,324.01 345.75,325.44 344.49,324.70 343.22,325.44 343.54,324.01 342.44,323.04 343.90,322.89" class="sp"/>
<polygon points="349.29,321.55 349.88,322.89 351.33,323.04 350.24,324.01 350.55,325.44 349.29,324.70 348.02,325.44 348.34,324.01 347.24,323.04 348.70,322.89" class="sp"/>
<polygon points="354.09,321.55 354.68,322.89 356.13,323.04 355.04,324.01 355.35,325.44 354.09,324.70 352.82,325.44 353.14,324.01 352.04,323.04 353.50,322.89" class="sp"/>
<text x="349.64" y="339.8" class="ns">ns</text>
<text x="371.16" y="339.8" class="ns">ns</text>
<text x="392.69" y="339.8" class="ns">ns</text>
<text x="500.4" y="267.7" class="ti">Compound_17-AAG 24Hr</text>
<line x1="455.2" x2="545.6" y1="295.4" y2="295.4" class="rd"/>
<line x1="455.2" x2="545.6" y1="323" y2="323" class="rd"/>
<line x1="455.5" x2="545.5" y1="271.5" y2="271.5" stroke="#333333" stroke-width="1.0"/>
<line x1="545.5" x2="545.5" y1="271.5" y2="346.5" stroke="#333333" stroke-width="1.0"/>
<line x1="455.5" x2="455.5" y1="271.5" y2="346.5" stroke="#333333" stroke-width="1.0"/>
<line x1="455" x2="546" y1="346.5" y2="346.5" stroke="#333333" stroke-width="1.0"/>
<line x1="453.7" x2="455.2" y1="274.9" y2="274.9" class="tk"/>
<text x="453.4" y="277.15" class="yt" textLength="11.01" lengthAdjust="spacingAndGlyphs">150</text>
<line x1="453.7" x2="455.2" y1="292.07" y2="292.07" class="tk"/>
<text x="453.4" y="294.32" class="yt" textLength="11.01" lengthAdjust="spacingAndGlyphs">125</text>
<line x1="453.7" x2="455.2" y1="309.25" y2="309.25" class="tk"/>
<text x="453.4" y="311.5" class="yt" textLength="11.01" lengthAdjust="spacingAndGlyphs">100</text>
<line x1="453.7" x2="455.2" y1="326.43" y2="326.43" class="tk"/>
<text x="453.4" y="328.68" class="yt" textLength="7.34" lengthAdjust="spacingAndGlyphs">75</text>
<line x1="453.7" x2="455.2" y1="343.6" y2="343.6" class="tk"/>
<text x="453.4" y="345.85" class="yt" textLength="7.34" lengthAdjust="spacingAndGlyphs">50</text>
<line x1="468.11" x2="468.11" y1="346.5" y2="347.7" class="tk"/>
<text x="468.11" y="352.4" class="xt">0.25µM</text>
<line x1="489.64" x2="489.64" y1="346.5" y2="347.7" class="tk"/>
<text x="489.64" y="352.4" class="xt">2.5µM</text>
<line x1="511.16" x2="511.16" y1="346.5" y2="347.7" class="tk"/>
<text x="511.16" y="352.4" class="xt">10µM</text>
<line x1="532.69" x2="532.69" y1="346.5" y2="347.7" class="tk"/>
<text x="532.69" y="352.4" class="xt">50µM</text>
<text x="500.4" y="364.3" class="xa">Drug Concentration</text>
<text transform="translate(438.7 308.75) rotate(-90)" class="yl" textLength="21.94" lengthAdjust="spacingAndGlyphs">APD<tspan dy="1.7" font-size="5.78">90</tspan></text>
<polyline points="468.11,308.7 489.64,324.2" class="ln"/>
<ellipse cx="468.11" cy="308.7" rx="3.4" ry="3.5"/>
<ellipse cx="489.64" cy="324.2" rx="3.4" ry="3.5"/>
<polygon points="484.49,314.95 485.08,316.29 486.53,316.44 485.44,317.41 485.75,318.84 484.49,318.10 483.22,318.84 483.54,317.41 482.44,316.44 483.90,316.29" class="sp"/>
<polygon points="489.29,314.95 489.88,316.29 491.33,316.44 490.24,317.41 490.55,318.84 489.29,318.10 488.02,318.84 488.34,317.41 487.24,316.44 488.70,316.29" class="sp"/>
<polygon points="494.09,314.95 494.68,316.29 496.13,316.44 495.04,317.41 495.35,318.84 494.09,318.10 492.82,318.84 493.14,317.41 492.04,316.44 493.50,316.29" class="sp"/>
<text x="489.64" y="341.2" class="ns">ns</text>
<text x="511.16" y="341.2" class="ns">ns</text>
<text x="532.69" y="341.2" class="ns">ns</text>
<text x="633.9" y="267.7" class="ti">Compound_17-AAG 24Hr</text>
<line x1="587.9" x2="679.9" y1="319.5" y2="319.5" class="rd"/>
<line x1="587.9" x2="679.9" y1="333.2" y2="333.2" class="rd"/>
<line x1="587.5" x2="679.5" y1="271.5" y2="271.5" stroke="#7c7c7c" stroke-width="1.0"/>
<line x1="679.5" x2="679.5" y1="271.5" y2="346.5" stroke="#7c7c7c" stroke-width="1.0"/>
<line x1="587.5" x2="587.5" y1="271.5" y2="346.5" stroke="#7c7c7c" stroke-width="1.0"/>
<line x1="587" x2="680" y1="346.5" y2="346.5" stroke="#333333" stroke-width="1.0"/>
<line x1="586.4" x2="587.9" y1="275.1" y2="275.1" class="tk"/>
<text x="586.1" y="277.35" class="yt" textLength="11.01" lengthAdjust="spacingAndGlyphs">250</text>
<line x1="586.4" x2="587.9" y1="292.18" y2="292.18" class="tk"/>
<text x="586.1" y="294.43" class="yt" textLength="11.01" lengthAdjust="spacingAndGlyphs">200</text>
<line x1="586.4" x2="587.9" y1="309.25" y2="309.25" class="tk"/>
<text x="586.1" y="311.5" class="yt" textLength="11.01" lengthAdjust="spacingAndGlyphs">150</text>
<line x1="586.4" x2="587.9" y1="326.32" y2="326.32" class="tk"/>
<text x="586.1" y="328.57" class="yt" textLength="11.01" lengthAdjust="spacingAndGlyphs">100</text>
<line x1="586.4" x2="587.9" y1="343.4" y2="343.4" class="tk"/>
<text x="586.1" y="345.65" class="yt" textLength="7.34" lengthAdjust="spacingAndGlyphs">50</text>
<line x1="601.04" x2="601.04" y1="346.1" y2="347.3" class="tk"/>
<text x="601.04" y="352" class="xt">0.25µM</text>
<line x1="622.95" x2="622.95" y1="346.1" y2="347.3" class="tk"/>
<text x="622.95" y="352" class="xt">2.5µM</text>
<line x1="644.85" x2="644.85" y1="346.1" y2="347.3" class="tk"/>
<text x="644.85" y="352" class="xt">10µM</text>
<line x1="666.76" x2="666.76" y1="346.1" y2="347.3" class="tk"/>
<text x="666.76" y="352" class="xt">50µM</text>
<text x="633.9" y="363.9" class="xa">Drug Concentration</text>
<text transform="translate(572.6 308.55) rotate(-90)" class="yl" textLength="20.37" lengthAdjust="spacingAndGlyphs">TRise</text>
<polyline points="601.04,334.8 622.95,294.3" class="ln"/>
<path d="M622.95 284.3V304.2M621.75 284.3H624.15M621.75 304.2H624.15" class="eb"/>
<ellipse cx="601.04" cy="334.8" rx="3.4" ry="3.5"/>
<ellipse cx="622.95" cy="294.3" rx="3.4" ry="3.5"/>
<polygon points="595.89,327.05 596.48,328.39 597.94,328.54 596.84,329.51 597.16,330.94 595.89,330.20 594.63,330.94 594.94,329.51 593.85,328.54 595.31,328.39" class="sp"/>
<polygon points="600.69,327.05 601.28,328.39 602.74,328.54 601.64,329.51 601.96,330.94 600.69,330.20 599.43,330.94 599.74,329.51 598.65,328.54 600.11,328.39" class="sp"/>
<polygon points="605.49,327.05 606.08,328.39 607.54,328.54 606.44,329.51 606.76,330.94 605.49,330.20 604.23,330.94 604.54,329.51 603.45,328.54 604.91,328.39" class="sp"/>
<polygon points="622.60,277.15 623.19,278.49 624.64,278.64 623.55,279.61 623.86,281.04 622.60,280.30 621.33,281.04 621.65,279.61 620.55,278.64 622.01,278.49" class="sp"/>
<text x="622.95" y="341.2" class="ns">ns</text>
<text x="644.85" y="341.2" class="ns">ns</text>
<text x="666.76" y="341.2" class="ns">ns</text>
<text x="105.4" y="389.3" class="ti">Compound_17-AAG 24Hr</text>
<line x1="59.4" x2="151.4" y1="416.1" y2="416.1" class="rd"/>
<line x1="59.4" x2="151.4" y1="444.3" y2="444.3" class="rd"/>
<line x1="59.5" x2="151.5" y1="392.5" y2="392.5" stroke="#333333" stroke-width="1.0"/>
<line x1="151.5" x2="151.5" y1="392.5" y2="467.5" stroke="#333333" stroke-width="1.0"/>
<line x1="59.5" x2="59.5" y1="392.5" y2="467.5" stroke="#333333" stroke-width="1.0"/>
<line x1="59" x2="152" y1="467.5" y2="467.5" stroke="#333333" stroke-width="1.0"/>
<line x1="57.9" x2="59.4" y1="396.3" y2="396.3" class="tk"/>
<text x="57.6" y="398.55" class="yt" textLength="11.01" lengthAdjust="spacingAndGlyphs">150</text>
<line x1="57.9" x2="59.4" y1="413.4" y2="413.4" class="tk"/>
<text x="57.6" y="415.65" class="yt" textLength="11.01" lengthAdjust="spacingAndGlyphs">125</text>
<line x1="57.9" x2="59.4" y1="430.5" y2="430.5" class="tk"/>
<text x="57.6" y="432.75" class="yt" textLength="11.01" lengthAdjust="spacingAndGlyphs">100</text>
<line x1="57.9" x2="59.4" y1="447.6" y2="447.6" class="tk"/>
<text x="57.6" y="449.85" class="yt" textLength="7.34" lengthAdjust="spacingAndGlyphs">75</text>
<line x1="57.9" x2="59.4" y1="464.7" y2="464.7" class="tk"/>
<text x="57.6" y="466.95" class="yt" textLength="7.34" lengthAdjust="spacingAndGlyphs">50</text>
<line x1="72.54" x2="72.54" y1="467.8" y2="469" class="tk"/>
<text x="72.54" y="473.7" class="xt">0.25µM</text>
<line x1="94.45" x2="94.45" y1="467.8" y2="469" class="tk"/>
<text x="94.45" y="473.7" class="xt">2.5µM</text>
<line x1="116.35" x2="116.35" y1="467.8" y2="469" class="tk"/>
<text x="116.35" y="473.7" class="xt">10µM</text>
<line x1="138.26" x2="138.26" y1="467.8" y2="469" class="tk"/>
<text x="138.26" y="473.7" class="xt">50µM</text>
<text x="105.4" y="485.6" class="xa">Drug Concentration</text>
<text transform="translate(43.8 430.2) rotate(-90)" class="yl" textLength="44.8" lengthAdjust="spacingAndGlyphs">Triangulation</text>
<polyline points="72.54,420.2 94.45,426.9" class="ln"/>
<ellipse cx="72.54" cy="420.2" rx="3.3" ry="3.2"/>
<ellipse cx="94.45" cy="426.9" rx="3.3" ry="3.2"/>
<polygon points="67.39,411.35 67.98,412.69 69.44,412.84 68.34,413.81 68.66,415.24 67.39,414.50 66.13,415.24 66.44,413.81 65.35,412.84 66.81,412.69" class="sp"/>
<polygon points="72.19,411.35 72.78,412.69 74.24,412.84 73.14,413.81 73.46,415.24 72.19,414.50 70.93,415.24 71.24,413.81 70.15,412.84 71.61,412.69" class="sp"/>
<polygon points="76.99,411.35 77.58,412.69 79.04,412.84 77.94,413.81 78.26,415.24 76.99,414.50 75.73,415.24 76.04,413.81 74.95,412.84 76.41,412.69" class="sp"/>
<text x="94.45" y="462.8" class="ns">ns</text>
<text x="116.35" y="462.8" class="ns">ns</text>
<text x="138.26" y="462.8" class="ns">ns</text>
<text x="230.7" y="388.9" class="ti">Compound_17-AAG 24Hr</text>
<line x1="184.7" x2="276.7" y1="412.4" y2="412.4" class="rd"/>
<line x1="184.7" x2="276.7" y1="434.5" y2="434.5" class="rd"/>
<line x1="184.5" x2="276.5" y1="392.5" y2="392.5" stroke="#7c7c7c" stroke-width="1.0"/>
<line x1="276.5" x2="276.5" y1="392.5" y2="467.5" stroke="#7c7c7c" stroke-width="1.0"/>
<line x1="184.5" x2="184.5" y1="392.5" y2="467.5" stroke="#333333" stroke-width="1.0"/>
<line x1="184" x2="277" y1="467.5" y2="467.5" stroke="#333333" stroke-width="1.0"/>
<line x1="183.2" x2="184.7" y1="412.4" y2="412.4" class="tk"/>
<text x="182.9" y="414.65" class="yt" textLength="11.01" lengthAdjust="spacingAndGlyphs">120</text>
<line x1="183.2" x2="184.7" y1="434.5" y2="434.5" class="tk"/>
<text x="182.9" y="436.75" class="yt" textLength="7.34" lengthAdjust="spacingAndGlyphs">80</text>
<line x1="183.2" x2="184.7" y1="456.4" y2="456.4" class="tk"/>
<text x="182.9" y="458.65" class="yt" textLength="7.34" lengthAdjust="spacingAndGlyphs">40</text>
<line x1="197.84" x2="197.84" y1="467.8" y2="469" class="tk"/>
<text x="197.84" y="473.7" class="xt">0.25µM</text>
<line x1="219.75" x2="219.75" y1="467.8" y2="469" class="tk"/>
<text x="219.75" y="473.7" class="xt">2.5µM</text>
<line x1="241.65" x2="241.65" y1="467.8" y2="469" class="tk"/>
<text x="241.65" y="473.7" class="xt">10µM</text>
<line x1="263.56" x2="263.56" y1="467.8" y2="469" class="tk"/>
<text x="263.56" y="473.7" class="xt">50µM</text>
<text x="230.7" y="485.6" class="xa">Drug Concentration</text>
<text transform="translate(170 430) rotate(-90)" class="yl" textLength="57.22" lengthAdjust="spacingAndGlyphs">Diastolic Interval</text>
<polyline points="197.84,446.1 219.75,462.1" class="ln"/>
<ellipse cx="197.84" cy="446.1" rx="3.3" ry="3.2"/>
<ellipse cx="219.75" cy="462.1" rx="3.3" ry="3.2"/>
<polygon points="192.69,435.95 193.28,437.29 194.74,437.44 193.64,438.41 193.96,439.84 192.69,439.10 191.43,439.84 191.74,438.41 190.65,437.44 192.11,437.29" class="sp"/>
<polygon points="197.49,435.95 198.08,437.29 199.54,437.44 198.44,438.41 198.76,439.84 197.49,439.10 196.23,439.84 196.54,438.41 195.45,437.44 196.91,437.29" class="sp"/>
<polygon points="202.29,435.95 202.88,437.29 204.34,437.44 203.24,438.41 203.56,439.84 202.29,439.10 201.03,439.84 201.34,438.41 200.25,437.44 201.71,437.29" class="sp"/>
<polygon points="214.60,452.45 215.19,453.79 216.64,453.94 215.55,454.91 215.86,456.34 214.60,455.60 213.33,456.34 213.65,454.91 212.55,453.94 214.01,453.79" class="sp"/>
<polygon points="219.40,452.45 219.99,453.79 221.44,453.94 220.35,454.91 220.66,456.34 219.40,455.60 218.13,456.34 218.45,454.91 217.35,453.94 218.81,453.79" class="sp"/>
<polygon points="224.20,452.45 224.79,453.79 226.24,453.94 225.15,454.91 225.46,456.34 224.20,455.60 222.93,456.34 223.25,454.91 222.15,453.94 223.61,453.79" class="sp"/>
<text x="219.75" y="462.8" class="ns">ns</text>
<text x="241.65" y="462.8" class="ns">ns</text>
<text x="263.56" y="462.8" class="ns">ns</text>
<text x="358.6" y="388.9" class="ti">Compound_17-AAG 24Hr</text>
<line x1="312.5" x2="404.5" y1="392.5" y2="392.5" stroke="#7c7c7c" stroke-width="1.0"/>
<line x1="404.5" x2="404.5" y1="392.5" y2="468.5" stroke="#7c7c7c" stroke-width="1.0"/>
<line x1="312.5" x2="312.5" y1="392.5" y2="468.5" stroke="#7c7c7c" stroke-width="1.0"/>
<line x1="312" x2="405" y1="468.5" y2="468.5" stroke="#333333" stroke-width="1.0"/>
<line x1="311.1" x2="312.6" y1="396.3" y2="396.3" class="tk"/>
<text x="310.8" y="398.55" class="yt" textLength="11.01" lengthAdjust="spacingAndGlyphs">250</text>
<line x1="311.1" x2="312.6" y1="413.4" y2="413.4" class="tk"/>
<text x="310.8" y="415.65" class="yt" textLength="11.01" lengthAdjust="spacingAndGlyphs">200</text>
<line x1="311.1" x2="312.6" y1="430.5" y2="430.5" class="tk"/>
<text x="310.8" y="432.75" class="yt" textLength="11.01" lengthAdjust="spacingAndGlyphs">150</text>
<line x1="311.1" x2="312.6" y1="447.6" y2="447.6" class="tk"/>
<text x="310.8" y="449.85" class="yt" textLength="11.01" lengthAdjust="spacingAndGlyphs">100</text>
<line x1="311.1" x2="312.6" y1="464.7" y2="464.7" class="tk"/>
<text x="310.8" y="466.95" class="yt" textLength="7.34" lengthAdjust="spacingAndGlyphs">50</text>
<line x1="325.74" x2="325.74" y1="468.2" y2="469.4" class="tk"/>
<text x="325.74" y="474.1" class="xt">0.25µM</text>
<line x1="347.65" x2="347.65" y1="468.2" y2="469.4" class="tk"/>
<text x="347.65" y="474.1" class="xt">2.5µM</text>
<line x1="369.55" x2="369.55" y1="468.2" y2="469.4" class="tk"/>
<text x="369.55" y="474.1" class="xt">10µM</text>
<line x1="391.46" x2="391.46" y1="468.2" y2="469.4" class="tk"/>
<text x="391.46" y="474.1" class="xt">50µM</text>
<text x="358.6" y="486" class="xa">Drug Concentration</text>
<text transform="translate(296.4 430.2) rotate(-90)" class="yl" textLength="23.84" lengthAdjust="spacingAndGlyphs">CtAmp</text>
<polyline points="325.74,419.8 347.65,434.7" class="ln"/>
<path d="M325.74 410.4V429.4M324.54 410.4H326.94M324.54 429.4H326.94" class="eb"/>
<path d="M347.65 427.3V441.2M346.45 427.3H348.85M346.45 441.2H348.85" class="eb"/>
<ellipse cx="325.74" cy="419.8" rx="3.3" ry="3.2"/>
<ellipse cx="347.65" cy="434.7" rx="3.3" ry="3.2"/>
<text x="347.65" y="462.8" class="ns">ns</text>
<text x="369.55" y="462.8" class="ns">ns</text>
<text x="391.46" y="462.8" class="ns">ns</text>
<text x="499.6" y="388.9" class="ti">Compound_17-AAG 24Hr</text>
<line x1="453.5" x2="545.5" y1="392.5" y2="392.5" stroke="#333333" stroke-width="1.0"/>
<line x1="545.5" x2="545.5" y1="392.5" y2="467.5" stroke="#333333" stroke-width="1.0"/>
<line x1="453.5" x2="453.5" y1="392.5" y2="467.5" stroke="#7c7c7c" stroke-width="1.0"/>
<line x1="453" x2="546" y1="467.5" y2="467.5" stroke="#333333" stroke-width="1.0"/>
<line x1="452.1" x2="453.6" y1="396.3" y2="396.3" class="tk"/>
<text x="451.8" y="398.55" class="yt" textLength="11.01" lengthAdjust="spacingAndGlyphs">150</text>
<line x1="452.1" x2="453.6" y1="413.4" y2="413.4" class="tk"/>
<text x="451.8" y="415.65" class="yt" textLength="11.01" lengthAdjust="spacingAndGlyphs">125</text>
<line x1="452.1" x2="453.6" y1="430.5" y2="430.5" class="tk"/>
<text x="451.8" y="432.75" class="yt" textLength="11.01" lengthAdjust="spacingAndGlyphs">100</text>
<line x1="452.1" x2="453.6" y1="447.6" y2="447.6" class="tk"/>
<text x="451.8" y="449.85" class="yt" textLength="7.34" lengthAdjust="spacingAndGlyphs">75</text>
<line x1="452.1" x2="453.6" y1="464.7" y2="464.7" class="tk"/>
<text x="451.8" y="466.95" class="yt" textLength="7.34" lengthAdjust="spacingAndGlyphs">50</text>
<line x1="466.74" x2="466.74" y1="467.8" y2="469" class="tk"/>
<text x="466.74" y="473.7" class="xt">0.25µM</text>
<line x1="488.65" x2="488.65" y1="467.8" y2="469" class="tk"/>
<text x="488.65" y="473.7" class="xt">2.5µM</text>
<line x1="510.55" x2="510.55" y1="467.8" y2="469" class="tk"/>
<text x="510.55" y="473.7" class="xt">10µM</text>
<line x1="532.46" x2="532.46" y1="467.8" y2="469" class="tk"/>
<text x="532.46" y="473.7" class="xt">50µM</text>
<text x="499.6" y="485.6" class="xa">Drug Concentration</text>
<text transform="translate(438.7 430) rotate(-90)" class="yl" textLength="24.84" lengthAdjust="spacingAndGlyphs">CtTrise</text>
<polyline points="466.74,433.5 488.65,423.9" class="ln"/>
<path d="M466.74 419.2V447.2M465.54 419.2H467.94M465.54 447.2H467.94" class="eb"/>
<path d="M488.65 410.4V437.1M487.45 410.4H489.85M487.45 437.1H489.85" class="eb"/>
<ellipse cx="466.74" cy="433.5" rx="3.3" ry="3.2"/>
<ellipse cx="488.65" cy="423.9" rx="3.3" ry="3.2"/>
<text x="488.65" y="462.8" class="ns">ns</text>
<text x="510.55" y="462.8" class="ns">ns</text>
<text x="532.46" y="462.8" class="ns">ns</text>
<text x="633.7" y="389.3" class="ti">Compound_17-AAG 24Hr</text>
<line x1="588.5" x2="678.5" y1="392.5" y2="392.5" stroke="#333333" stroke-width="1.0"/>
<line x1="678.5" x2="678.5" y1="392.5" y2="468.5" stroke="#333333" stroke-width="1.0"/>
<line x1="588.5" x2="588.5" y1="392.5" y2="468.5" stroke="#333333" stroke-width="1.0"/>
<line x1="588" x2="679" y1="468.5" y2="468.5" stroke="#333333" stroke-width="1.0"/>
<line x1="587" x2="588.5" y1="396.3" y2="396.3" class="tk"/>
<text x="586.7" y="398.55" class="yt" textLength="11.01" lengthAdjust="spacingAndGlyphs">150</text>
<line x1="587" x2="588.5" y1="413.4" y2="413.4" class="tk"/>
<text x="586.7" y="415.65" class="yt" textLength="11.01" lengthAdjust="spacingAndGlyphs">125</text>
<line x1="587" x2="588.5" y1="430.5" y2="430.5" class="tk"/>
<text x="586.7" y="432.75" class="yt" textLength="11.01" lengthAdjust="spacingAndGlyphs">100</text>
<line x1="587" x2="588.5" y1="447.6" y2="447.6" class="tk"/>
<text x="586.7" y="449.85" class="yt" textLength="7.34" lengthAdjust="spacingAndGlyphs">75</text>
<line x1="587" x2="588.5" y1="464.7" y2="464.7" class="tk"/>
<text x="586.7" y="466.95" class="yt" textLength="7.34" lengthAdjust="spacingAndGlyphs">50</text>
<line x1="601.41" x2="601.41" y1="468.2" y2="469.4" class="tk"/>
<text x="601.41" y="474.1" class="xt">0.25µM</text>
<line x1="622.94" x2="622.94" y1="468.2" y2="469.4" class="tk"/>
<text x="622.94" y="474.1" class="xt">2.5µM</text>
<line x1="644.46" x2="644.46" y1="468.2" y2="469.4" class="tk"/>
<text x="644.46" y="474.1" class="xt">10µM</text>
<line x1="665.99" x2="665.99" y1="468.2" y2="469.4" class="tk"/>
<text x="665.99" y="474.1" class="xt">50µM</text>
<text x="633.7" y="486" class="xa">Drug Concentration</text>
<text transform="translate(571.3 430.4) rotate(-90)" class="yl" textLength="19.33" lengthAdjust="spacingAndGlyphs">CtD<tspan dy="1.7" font-size="5.78">50</tspan></text>
<polyline points="601.41,431.4 622.94,449" class="ln"/>
<ellipse cx="601.41" cy="431.4" rx="3.3" ry="3.2"/>
<ellipse cx="622.94" cy="449" rx="3.3" ry="3.2"/>
<polygon points="617.79,439.95 618.38,441.29 619.83,441.44 618.74,442.41 619.05,443.84 617.79,443.10 616.52,443.84 616.84,442.41 615.74,441.44 617.20,441.29" class="sp"/>
<polygon points="622.59,439.95 623.18,441.29 624.63,441.44 623.54,442.41 623.85,443.84 622.59,443.10 621.32,443.84 621.64,442.41 620.54,441.44 622.00,441.29" class="sp"/>
<polygon points="627.39,439.95 627.98,441.29 629.43,441.44 628.34,442.41 628.65,443.84 627.39,443.10 626.12,443.84 626.44,442.41 625.34,441.44 626.80,441.29" class="sp"/>
<text x="622.94" y="462.8" class="ns">ns</text>
<text x="644.46" y="462.8" class="ns">ns</text>
<text x="665.99" y="462.8" class="ns">ns</text>
<text x="105.7" y="518.7" class="ti">Dofetilide 24Hr</text>
<line x1="59.6" x2="151.8" y1="546.3" y2="546.3" class="rd"/>
<line x1="59.6" x2="151.8" y1="574.4" y2="574.4" class="rd"/>
<line x1="59.5" x2="151.5" y1="522.5" y2="522.5" stroke="#c4c4c4" stroke-width="1.8"/>
<line x1="151.5" x2="151.5" y1="522.5" y2="598.5" stroke="#7c7c7c" stroke-width="1.0"/>
<line x1="59.5" x2="59.5" y1="522.5" y2="598.5" stroke="#333333" stroke-width="1.0"/>
<line x1="59" x2="152" y1="598.5" y2="598.5" stroke="#7c7c7c" stroke-width="1.0"/>
<line x1="58.1" x2="59.6" y1="525.1" y2="525.1" class="tk"/>
<text x="57.8" y="527.35" class="yt" textLength="11.01" lengthAdjust="spacingAndGlyphs">150</text>
<line x1="58.1" x2="59.6" y1="542.62" y2="542.62" class="tk"/>
<text x="57.8" y="544.88" class="yt" textLength="11.01" lengthAdjust="spacingAndGlyphs">125</text>
<line x1="58.1" x2="59.6" y1="560.15" y2="560.15" class="tk"/>
<text x="57.8" y="562.4" class="yt" textLength="11.01" lengthAdjust="spacingAndGlyphs">100</text>
<line x1="58.1" x2="59.6" y1="577.68" y2="577.68" class="tk"/>
<text x="57.8" y="579.93" class="yt" textLength="7.34" lengthAdjust="spacingAndGlyphs">75</text>
<line x1="58.1" x2="59.6" y1="595.2" y2="595.2" class="tk"/>
<text x="57.8" y="597.45" class="yt" textLength="7.34" lengthAdjust="spacingAndGlyphs">50</text>
<line x1="105.7" x2="105.7" y1="598.4" y2="599.6" class="tk"/>
<text x="105.7" y="604.3" class="xt">3nM</text>
<text x="105.7" y="616.2" class="xa">Drug Concentration</text>
<text transform="translate(43 560.2) rotate(-90)" class="yl" textLength="45.53" lengthAdjust="spacingAndGlyphs">Cycle Length</text>
<text x="105.7" y="588.6" class="ead" textLength="11.6" lengthAdjust="spacingAndGlyphs">8 EAD</text>
<text x="105.7" y="593" class="ns">ns</text>
<text x="232.25" y="517.1" class="ti">Dofetilide 24Hr</text>
<line x1="186.8" x2="277.7" y1="544.6" y2="544.6" class="rd"/>
<line x1="186.8" x2="277.7" y1="572.1" y2="572.1" class="rd"/>
<line x1="186.5" x2="277.5" y1="520.5" y2="520.5" stroke="#333333" stroke-width="1.0"/>
<line x1="277.5" x2="277.5" y1="520.5" y2="597.5" stroke="#333333" stroke-width="1.0"/>
<line x1="186.5" x2="186.5" y1="520.5" y2="597.5" stroke="#7c7c7c" stroke-width="1.0"/>
<line x1="186" x2="278" y1="597.5" y2="597.5" stroke="#333333" stroke-width="1.0"/>
<line x1="185.3" x2="186.8" y1="524.1" y2="524.1" class="tk"/>
<text x="185" y="526.35" class="yt" textLength="11.01" lengthAdjust="spacingAndGlyphs">150</text>
<line x1="185.3" x2="186.8" y1="541.48" y2="541.48" class="tk"/>
<text x="185" y="543.73" class="yt" textLength="11.01" lengthAdjust="spacingAndGlyphs">125</text>
<line x1="185.3" x2="186.8" y1="558.85" y2="558.85" class="tk"/>
<text x="185" y="561.1" class="yt" textLength="11.01" lengthAdjust="spacingAndGlyphs">100</text>
<line x1="185.3" x2="186.8" y1="576.23" y2="576.23" class="tk"/>
<text x="185" y="578.48" class="yt" textLength="7.34" lengthAdjust="spacingAndGlyphs">75</text>
<line x1="185.3" x2="186.8" y1="593.6" y2="593.6" class="tk"/>
<text x="185" y="595.85" class="yt" textLength="7.34" lengthAdjust="spacingAndGlyphs">50</text>
<line x1="232.25" x2="232.25" y1="597.1" y2="598.3" class="tk"/>
<text x="232.25" y="603" class="xt">3nM</text>
<text x="232.25" y="614.9" class="xa">Drug Concentration</text>
<text transform="translate(170.8 558.75) rotate(-90)" class="yl" textLength="21.94" lengthAdjust="spacingAndGlyphs">APD<tspan dy="1.7" font-size="5.78">30</tspan></text>
<text x="232.25" y="587" class="ead" textLength="11.6" lengthAdjust="spacingAndGlyphs">8 EAD</text>
<text x="232.25" y="591.6" class="ns">ns</text>
<text x="359.1" y="516.7" class="ti">Dofetilide 24Hr</text>
<line x1="313.6" x2="404.6" y1="560.5" y2="560.5" class="rd"/>
<line x1="313.6" x2="404.6" y1="579.3" y2="579.3" class="rd"/>
<line x1="313.5" x2="404.5" y1="520.5" y2="520.5" stroke="#333333" stroke-width="1.0"/>
<line x1="404.5" x2="404.5" y1="520.5" y2="596.5" stroke="#333333" stroke-width="1.0"/>
<line x1="313.5" x2="313.5" y1="520.5" y2="596.5" stroke="#333333" stroke-width="1.0"/>
<line x1="313" x2="405" y1="596.5" y2="596.5" stroke="#333333" stroke-width="1.0"/>
<line x1="312.1" x2="313.6" y1="523.9" y2="523.9" class="tk"/>
<text x="311.8" y="526.15" class="yt" textLength="11.01" lengthAdjust="spacingAndGlyphs">200</text>
<line x1="312.1" x2="313.6" y1="547.13" y2="547.13" class="tk"/>
<text x="311.8" y="549.38" class="yt" textLength="11.01" lengthAdjust="spacingAndGlyphs">150</text>
<line x1="312.1" x2="313.6" y1="570.37" y2="570.37" class="tk"/>
<text x="311.8" y="572.62" class="yt" textLength="11.01" lengthAdjust="spacingAndGlyphs">100</text>
<line x1="312.1" x2="313.6" y1="593.6" y2="593.6" class="tk"/>
<text x="311.8" y="595.85" class="yt" textLength="7.34" lengthAdjust="spacingAndGlyphs">50</text>
<line x1="359.1" x2="359.1" y1="596.5" y2="597.7" class="tk"/>
<text x="359.1" y="602.4" class="xt">3nM</text>
<text x="359.1" y="614.3" class="xa">Drug Concentration</text>
<text transform="translate(297.6 558.25) rotate(-90)" class="yl" textLength="21.94" lengthAdjust="spacingAndGlyphs">APD<tspan dy="1.7" font-size="5.78">50</tspan></text>
<text x="359.1" y="586" class="ead" textLength="11.6" lengthAdjust="spacingAndGlyphs">8 EAD</text>
<text x="359.1" y="591.2" class="ns">ns</text>
<text x="501.65" y="519.8" class="ti">Dofetilide 24Hr</text>
<line x1="456.7" x2="546.6" y1="571.5" y2="571.5" class="rd"/>
<line x1="456.7" x2="546.6" y1="585.4" y2="585.4" class="rd"/>
<line x1="546.5" x2="546.5" y1="523.5" y2="599.5" stroke="#7c7c7c" stroke-width="1.0"/>
<line x1="456.5" x2="456.5" y1="523.5" y2="599.5" stroke="#333333" stroke-width="1.0"/>
<line x1="456" x2="547" y1="599.5" y2="599.5" stroke="#333333" stroke-width="1.0"/>
<line x1="455.2" x2="456.7" y1="526.2" y2="526.2" class="tk"/>
<text x="454.9" y="528.45" class="yt" textLength="11.01" lengthAdjust="spacingAndGlyphs">250</text>
<line x1="455.2" x2="456.7" y1="543.55" y2="543.55" class="tk"/>
<text x="454.9" y="545.8" class="yt" textLength="11.01" lengthAdjust="spacingAndGlyphs">200</text>
<line x1="455.2" x2="456.7" y1="560.9" y2="560.9" class="tk"/>
<text x="454.9" y="563.15" class="yt" textLength="11.01" lengthAdjust="spacingAndGlyphs">150</text>
<line x1="455.2" x2="456.7" y1="578.25" y2="578.25" class="tk"/>
<text x="454.9" y="580.5" class="yt" textLength="11.01" lengthAdjust="spacingAndGlyphs">100</text>
<line x1="455.2" x2="456.7" y1="595.6" y2="595.6" class="tk"/>
<text x="454.9" y="597.85" class="yt" textLength="7.34" lengthAdjust="spacingAndGlyphs">50</text>
<line x1="501.65" x2="501.65" y1="599.1" y2="600.3" class="tk"/>
<text x="501.65" y="605" class="xt">3nM</text>
<text x="501.65" y="616.9" class="xa">Drug Concentration</text>
<text transform="translate(440 561.1) rotate(-90)" class="yl" textLength="21.94" lengthAdjust="spacingAndGlyphs">APD<tspan dy="1.7" font-size="5.78">90</tspan></text>
<text x="501.65" y="589.9" class="ead" textLength="11.6" lengthAdjust="spacingAndGlyphs">8 EAD</text>
<text x="501.65" y="593.7" class="ns">ns</text>
<text x="631.45" y="521.2" class="ti">Dofetilide 24Hr</text>
<line x1="585.5" x2="677.4" y1="548.6" y2="548.6" class="rd"/>
<line x1="585.5" x2="677.4" y1="576.2" y2="576.2" class="rd"/>
<line x1="585.5" x2="677.5" y1="524.5" y2="524.5" stroke="#333333" stroke-width="1.0"/>
<line x1="677.5" x2="677.5" y1="524.5" y2="600.5" stroke="#333333" stroke-width="1.0"/>
<line x1="585.5" x2="585.5" y1="524.5" y2="600.5" stroke="#333333" stroke-width="1.0"/>
<line x1="585" x2="678" y1="600.5" y2="600.5" stroke="#333333" stroke-width="1.0"/>
<line x1="584" x2="585.5" y1="528" y2="528" class="tk"/>
<text x="583.7" y="530.25" class="yt" textLength="11.01" lengthAdjust="spacingAndGlyphs">150</text>
<line x1="584" x2="585.5" y1="545.42" y2="545.42" class="tk"/>
<text x="583.7" y="547.67" class="yt" textLength="11.01" lengthAdjust="spacingAndGlyphs">125</text>
<line x1="584" x2="585.5" y1="562.85" y2="562.85" class="tk"/>
<text x="583.7" y="565.1" class="yt" textLength="11.01" lengthAdjust="spacingAndGlyphs">100</text>
<line x1="584" x2="585.5" y1="580.28" y2="580.28" class="tk"/>
<text x="583.7" y="582.53" class="yt" textLength="7.34" lengthAdjust="spacingAndGlyphs">75</text>
<line x1="584" x2="585.5" y1="597.7" y2="597.7" class="tk"/>
<text x="583.7" y="599.95" class="yt" textLength="7.34" lengthAdjust="spacingAndGlyphs">50</text>
<line x1="631.45" x2="631.45" y1="600.8" y2="602" class="tk"/>
<text x="631.45" y="606.7" class="xt">3nM</text>
<text x="631.45" y="618.6" class="xa">Drug Concentration</text>
<text transform="translate(570.4 562.65) rotate(-90)" class="yl" textLength="20.37" lengthAdjust="spacingAndGlyphs">TRise</text>
<text x="631.45" y="589.9" class="ead" textLength="11.6" lengthAdjust="spacingAndGlyphs">8 EAD</text>
<text x="631.45" y="595.3" class="ns">ns</text>
<text x="106.65" y="634.6" class="ti">Dofetilide 24Hr</text>
<line x1="60.5" x2="152.8" y1="697.4" y2="697.4" class="rd"/>
<line x1="60.5" x2="152.8" y1="705.3" y2="705.3" class="rd"/>
<line x1="60.5" x2="152.5" y1="637.5" y2="637.5" stroke="#c4c4c4" stroke-width="1.8"/>
<line x1="152.5" x2="152.5" y1="637.5" y2="714.5" stroke="#333333" stroke-width="1.0"/>
<line x1="60.5" x2="60.5" y1="637.5" y2="714.5" stroke="#7c7c7c" stroke-width="1.0"/>
<line x1="60" x2="153" y1="714.5" y2="714.5" stroke="#333333" stroke-width="1.0"/>
<line x1="59" x2="60.5" y1="641.6" y2="641.6" class="tk"/>
<text x="58.7" y="643.85" class="yt" textLength="11.01" lengthAdjust="spacingAndGlyphs">400</text>
<line x1="59" x2="60.5" y1="661.57" y2="661.57" class="tk"/>
<text x="58.7" y="663.82" class="yt" textLength="11.01" lengthAdjust="spacingAndGlyphs">300</text>
<line x1="59" x2="60.5" y1="681.53" y2="681.53" class="tk"/>
<text x="58.7" y="683.78" class="yt" textLength="11.01" lengthAdjust="spacingAndGlyphs">200</text>
<line x1="59" x2="60.5" y1="701.5" y2="701.5" class="tk"/>
<text x="58.7" y="703.75" class="yt" textLength="11.01" lengthAdjust="spacingAndGlyphs">100</text>
<line x1="106.65" x2="106.65" y1="714.5" y2="715.7" class="tk"/>
<text x="106.65" y="720.4" class="xt">3nM</text>
<text x="106.65" y="732.3" class="xa">Drug Concentration</text>
<text transform="translate(43.8 676.2) rotate(-90)" class="yl" textLength="44.8" lengthAdjust="spacingAndGlyphs">Triangulation</text>
<text x="106.65" y="702.8" class="ead" textLength="11.6" lengthAdjust="spacingAndGlyphs">8 EAD</text>
<text x="106.65" y="709.3" class="ns">ns</text>
<text x="232.55" y="634.6" class="ti">Dofetilide 24Hr</text>
<line x1="186.8" x2="278.3" y1="662.4" y2="662.4" class="rd"/>
<line x1="186.8" x2="278.3" y1="690.2" y2="690.2" class="rd"/>
<line x1="186.5" x2="278.5" y1="637.5" y2="637.5" stroke="#c4c4c4" stroke-width="1.8"/>
<line x1="278.5" x2="278.5" y1="637.5" y2="714.5" stroke="#333333" stroke-width="1.0"/>
<line x1="186.5" x2="186.5" y1="637.5" y2="714.5" stroke="#333333" stroke-width="1.0"/>
<line x1="186" x2="279" y1="714.5" y2="714.5" stroke="#333333" stroke-width="1.0"/>
<line x1="185.3" x2="186.8" y1="641.6" y2="641.6" class="tk"/>
<text x="185" y="643.85" class="yt" textLength="11.01" lengthAdjust="spacingAndGlyphs">150</text>
<line x1="185.3" x2="186.8" y1="658.95" y2="658.95" class="tk"/>
<text x="185" y="661.2" class="yt" textLength="11.01" lengthAdjust="spacingAndGlyphs">125</text>
<line x1="185.3" x2="186.8" y1="676.3" y2="676.3" class="tk"/>
<text x="185" y="678.55" class="yt" textLength="11.01" lengthAdjust="spacingAndGlyphs">100</text>
<line x1="185.3" x2="186.8" y1="693.65" y2="693.65" class="tk"/>
<text x="185" y="695.9" class="yt" textLength="7.34" lengthAdjust="spacingAndGlyphs">75</text>
<line x1="185.3" x2="186.8" y1="711" y2="711" class="tk"/>
<text x="185" y="713.25" class="yt" textLength="7.34" lengthAdjust="spacingAndGlyphs">50</text>
<line x1="232.55" x2="232.55" y1="714.5" y2="715.7" class="tk"/>
<text x="232.55" y="720.4" class="xt">3nM</text>
<text x="232.55" y="732.3" class="xa">Drug Concentration</text>
<text transform="translate(171.3 676.2) rotate(-90)" class="yl" textLength="57.22" lengthAdjust="spacingAndGlyphs">Diastolic Interval</text>
<text x="232.55" y="703.9" class="ead" textLength="11.6" lengthAdjust="spacingAndGlyphs">8 EAD</text>
<text x="232.55" y="709.3" class="ns">ns</text>
<text x="357.55" y="634.6" class="ti">Dofetilide 24Hr</text>
<line x1="311.5" x2="403.5" y1="637.5" y2="637.5" stroke="#c4c4c4" stroke-width="1.8"/>
<line x1="403.5" x2="403.5" y1="637.5" y2="714.5" stroke="#7c7c7c" stroke-width="1.0"/>
<line x1="311.5" x2="311.5" y1="637.5" y2="714.5" stroke="#7c7c7c" stroke-width="1.0"/>
<line x1="311" x2="404" y1="714.5" y2="714.5" stroke="#333333" stroke-width="1.0"/>
<line x1="310.1" x2="311.6" y1="641.6" y2="641.6" class="tk"/>
<text x="309.8" y="643.85" class="yt" textLength="11.01" lengthAdjust="spacingAndGlyphs">150</text>
<line x1="310.1" x2="311.6" y1="658.95" y2="658.95" class="tk"/>
<text x="309.8" y="661.2" class="yt" textLength="11.01" lengthAdjust="spacingAndGlyphs">125</text>
<line x1="310.1" x2="311.6" y1="676.3" y2="676.3" class="tk"/>
<text x="309.8" y="678.55" class="yt" textLength="11.01" lengthAdjust="spacingAndGlyphs">100</text>
<line x1="310.1" x2="311.6" y1="693.65" y2="693.65" class="tk"/>
<text x="309.8" y="695.9" class="yt" textLength="7.34" lengthAdjust="spacingAndGlyphs">75</text>
<line x1="310.1" x2="311.6" y1="711" y2="711" class="tk"/>
<text x="309.8" y="713.25" class="yt" textLength="7.34" lengthAdjust="spacingAndGlyphs">50</text>
<line x1="357.55" x2="357.55" y1="714.5" y2="715.7" class="tk"/>
<text x="357.55" y="720.4" class="xt">3nM</text>
<text x="357.55" y="732.3" class="xa">Drug Concentration</text>
<text transform="translate(295.6 676.2) rotate(-90)" class="yl" textLength="23.84" lengthAdjust="spacingAndGlyphs">CtAmp</text>
<text x="357.55" y="703.1" class="ead" textLength="11.6" lengthAdjust="spacingAndGlyphs">8 EAD</text>
<text x="357.55" y="709.3" class="ns">ns</text>
<text x="501.65" y="634.6" class="ti">Dofetilide 24Hr</text>
<line x1="455.5" x2="547.5" y1="637.5" y2="637.5" stroke="#c4c4c4" stroke-width="1.8"/>
<line x1="547.5" x2="547.5" y1="637.5" y2="714.5" stroke="#7c7c7c" stroke-width="1.0"/>
<line x1="455.5" x2="455.5" y1="637.5" y2="714.5" stroke="#7c7c7c" stroke-width="1.0"/>
<line x1="455" x2="548" y1="714.5" y2="714.5" stroke="#333333" stroke-width="1.0"/>
<line x1="454.2" x2="455.7" y1="641.6" y2="641.6" class="tk"/>
<text x="453.9" y="643.85" class="yt" textLength="11.01" lengthAdjust="spacingAndGlyphs">150</text>
<line x1="454.2" x2="455.7" y1="658.95" y2="658.95" class="tk"/>
<text x="453.9" y="661.2" class="yt" textLength="11.01" lengthAdjust="spacingAndGlyphs">125</text>
<line x1="454.2" x2="455.7" y1="676.3" y2="676.3" class="tk"/>
<text x="453.9" y="678.55" class="yt" textLength="11.01" lengthAdjust="spacingAndGlyphs">100</text>
<line x1="454.2" x2="455.7" y1="693.65" y2="693.65" class="tk"/>
<text x="453.9" y="695.9" class="yt" textLength="7.34" lengthAdjust="spacingAndGlyphs">75</text>
<line x1="454.2" x2="455.7" y1="711" y2="711" class="tk"/>
<text x="453.9" y="713.25" class="yt" textLength="7.34" lengthAdjust="spacingAndGlyphs">50</text>
<line x1="501.65" x2="501.65" y1="714.5" y2="715.7" class="tk"/>
<text x="501.65" y="720.4" class="xt">3nM</text>
<text x="501.65" y="732.3" class="xa">Drug Concentration</text>
<text transform="translate(440.5 676.2) rotate(-90)" class="yl" textLength="24.84" lengthAdjust="spacingAndGlyphs">CtTrise</text>
<text x="501.65" y="704.5" class="ead" textLength="11.6" lengthAdjust="spacingAndGlyphs">8 EAD</text>
<text x="501.65" y="709.3" class="ns">ns</text>
<text x="633" y="634.6" class="ti">Dofetilide 24Hr</text>
<line x1="587.5" x2="678.5" y1="637.5" y2="637.5" stroke="#c4c4c4" stroke-width="1.8"/>
<line x1="678.5" x2="678.5" y1="637.5" y2="714.5" stroke="#333333" stroke-width="1.0"/>
<line x1="587.5" x2="587.5" y1="637.5" y2="714.5" stroke="#333333" stroke-width="1.0"/>
<line x1="587" x2="679" y1="714.5" y2="714.5" stroke="#333333" stroke-width="1.0"/>
<line x1="586" x2="587.5" y1="641.6" y2="641.6" class="tk"/>
<text x="585.7" y="643.85" class="yt" textLength="11.01" lengthAdjust="spacingAndGlyphs">150</text>
<line x1="586" x2="587.5" y1="658.95" y2="658.95" class="tk"/>
<text x="585.7" y="661.2" class="yt" textLength="11.01" lengthAdjust="spacingAndGlyphs">125</text>
<line x1="586" x2="587.5" y1="676.3" y2="676.3" class="tk"/>
<text x="585.7" y="678.55" class="yt" textLength="11.01" lengthAdjust="spacingAndGlyphs">100</text>
<line x1="586" x2="587.5" y1="693.65" y2="693.65" class="tk"/>
<text x="585.7" y="695.9" class="yt" textLength="7.34" lengthAdjust="spacingAndGlyphs">75</text>
<line x1="586" x2="587.5" y1="711" y2="711" class="tk"/>
<text x="585.7" y="713.25" class="yt" textLength="7.34" lengthAdjust="spacingAndGlyphs">50</text>
<line x1="633" x2="633" y1="714.5" y2="715.7" class="tk"/>
<text x="633" y="720.4" class="xt">3nM</text>
<text x="633" y="732.3" class="xa">Drug Concentration</text>
<text transform="translate(570.8 676.2) rotate(-90)" class="yl" textLength="19.33" lengthAdjust="spacingAndGlyphs">CtD<tspan dy="1.7" font-size="5.78">50</tspan></text>
<text x="633" y="703.9" class="ead" textLength="11.6" lengthAdjust="spacingAndGlyphs">8 EAD</text>
<text x="633" y="709.3" class="ns">ns</text>
<text x="107.45" y="767.6" class="ti">Doxorubicin 24hr</text>
<line x1="61.4" x2="153.5" y1="795.4" y2="795.4" class="rd"/>
<line x1="61.4" x2="153.5" y1="822.3" y2="822.3" class="rd"/>
<line x1="61.5" x2="153.5" y1="770.5" y2="770.5" stroke="#7c7c7c" stroke-width="1.0"/>
<line x1="153.5" x2="153.5" y1="770.5" y2="846.5" stroke="#7c7c7c" stroke-width="1.0"/>
<line x1="61.5" x2="61.5" y1="770.5" y2="846.5" stroke="#7c7c7c" stroke-width="1.0"/>
<line x1="61" x2="154" y1="846.5" y2="846.5" stroke="#333333" stroke-width="1.0"/>
<line x1="59.9" x2="61.4" y1="774.4" y2="774.4" class="tk"/>
<text x="59.6" y="776.65" class="yt" textLength="11.01" lengthAdjust="spacingAndGlyphs">150</text>
<line x1="59.9" x2="61.4" y1="791.62" y2="791.62" class="tk"/>
<text x="59.6" y="793.88" class="yt" textLength="11.01" lengthAdjust="spacingAndGlyphs">125</text>
<line x1="59.9" x2="61.4" y1="808.85" y2="808.85" class="tk"/>
<text x="59.6" y="811.1" class="yt" textLength="11.01" lengthAdjust="spacingAndGlyphs">100</text>
<line x1="59.9" x2="61.4" y1="826.07" y2="826.07" class="tk"/>
<text x="59.6" y="828.32" class="yt" textLength="7.34" lengthAdjust="spacingAndGlyphs">75</text>
<line x1="59.9" x2="61.4" y1="843.3" y2="843.3" class="tk"/>
<text x="59.6" y="845.55" class="yt" textLength="7.34" lengthAdjust="spacingAndGlyphs">50</text>
<line x1="107.45" x2="107.45" y1="846.6" y2="847.8" class="tk"/>
<text x="107.45" y="852.5" class="xt">0.3µM</text>
<text x="107.45" y="864.4" class="xa">Drug Concentration</text>
<text transform="translate(45 808.75) rotate(-90)" class="yl" textLength="45.53" lengthAdjust="spacingAndGlyphs">Cycle Length</text>
<path d="M107.45 811V816M103.75 811H111.15M103.75 816H111.15" class="ebD"/>
<ellipse cx="107.45" cy="813.4" rx="3.4" ry="3.55"/>
<text x="231.05" y="767.7" class="ti">Doxorubicin 24hr</text>
<line x1="185.8" x2="276.3" y1="795.4" y2="795.4" class="rd"/>
<line x1="185.8" x2="276.3" y1="822.1" y2="822.1" class="rd"/>
<line x1="185.5" x2="276.5" y1="771.5" y2="771.5" stroke="#333333" stroke-width="1.0"/>
<line x1="276.5" x2="276.5" y1="771.5" y2="846.5" stroke="#333333" stroke-width="1.0"/>
<line x1="185.5" x2="185.5" y1="771.5" y2="846.5" stroke="#333333" stroke-width="1.0"/>
<line x1="185" x2="277" y1="846.5" y2="846.5" stroke="#333333" stroke-width="1.0"/>
<line x1="184.3" x2="185.8" y1="774.5" y2="774.5" class="tk"/>
<text x="184" y="776.75" class="yt" textLength="11.01" lengthAdjust="spacingAndGlyphs">150</text>
<line x1="184.3" x2="185.8" y1="791.88" y2="791.88" class="tk"/>
<text x="184" y="794.12" class="yt" textLength="11.01" lengthAdjust="spacingAndGlyphs">125</text>
<line x1="184.3" x2="185.8" y1="809.25" y2="809.25" class="tk"/>
<text x="184" y="811.5" class="yt" textLength="11.01" lengthAdjust="spacingAndGlyphs">100</text>
<line x1="184.3" x2="185.8" y1="826.62" y2="826.62" class="tk"/>
<text x="184" y="828.88" class="yt" textLength="7.34" lengthAdjust="spacingAndGlyphs">75</text>
<line x1="184.3" x2="185.8" y1="844" y2="844" class="tk"/>
<text x="184" y="846.25" class="yt" textLength="7.34" lengthAdjust="spacingAndGlyphs">50</text>
<line x1="231.05" x2="231.05" y1="846.5" y2="847.7" class="tk"/>
<text x="231.05" y="852.4" class="xt">0.3µM</text>
<text x="231.05" y="864.3" class="xa">Drug Concentration</text>
<text transform="translate(169.5 808.75) rotate(-90)" class="yl" textLength="21.94" lengthAdjust="spacingAndGlyphs">APD<tspan dy="1.7" font-size="5.78">30</tspan></text>
<path d="M231.05 810.8V814.8M227.35 810.8H234.75M227.35 814.8H234.75" class="ebD"/>
<ellipse cx="231.05" cy="812.9" rx="3.4" ry="3.55"/>
<text x="357.05" y="767.7" class="ti">Doxorubicin 24hr</text>
<line x1="311.6" x2="402.5" y1="795.4" y2="795.4" class="rd"/>
<line x1="311.6" x2="402.5" y1="822.1" y2="822.1" class="rd"/>
<line x1="311.5" x2="402.5" y1="771.5" y2="771.5" stroke="#333333" stroke-width="1.0"/>
<line x1="402.5" x2="402.5" y1="771.5" y2="846.5" stroke="#333333" stroke-width="1.0"/>
<line x1="311.5" x2="311.5" y1="771.5" y2="846.5" stroke="#7c7c7c" stroke-width="1.0"/>
<line x1="311" x2="403" y1="846.5" y2="846.5" stroke="#333333" stroke-width="1.0"/>
<line x1="310.1" x2="311.6" y1="774.5" y2="774.5" class="tk"/>
<text x="309.8" y="776.75" class="yt" textLength="11.01" lengthAdjust="spacingAndGlyphs">150</text>
<line x1="310.1" x2="311.6" y1="791.88" y2="791.88" class="tk"/>
<text x="309.8" y="794.12" class="yt" textLength="11.01" lengthAdjust="spacingAndGlyphs">125</text>
<line x1="310.1" x2="311.6" y1="809.25" y2="809.25" class="tk"/>
<text x="309.8" y="811.5" class="yt" textLength="11.01" lengthAdjust="spacingAndGlyphs">100</text>
<line x1="310.1" x2="311.6" y1="826.62" y2="826.62" class="tk"/>
<text x="309.8" y="828.88" class="yt" textLength="7.34" lengthAdjust="spacingAndGlyphs">75</text>
<line x1="310.1" x2="311.6" y1="844" y2="844" class="tk"/>
<text x="309.8" y="846.25" class="yt" textLength="7.34" lengthAdjust="spacingAndGlyphs">50</text>
<line x1="357.05" x2="357.05" y1="846.5" y2="847.7" class="tk"/>
<text x="357.05" y="852.4" class="xt">0.3µM</text>
<text x="357.05" y="864.3" class="xa">Drug Concentration</text>
<text transform="translate(295.5 808.75) rotate(-90)" class="yl" textLength="21.94" lengthAdjust="spacingAndGlyphs">APD<tspan dy="1.7" font-size="5.78">50</tspan></text>
<ellipse cx="357.05" cy="810.1" rx="3.4" ry="3.55"/>
<text x="498.85" y="767.7" class="ti">Doxorubicin 24hr</text>
<line x1="453.6" x2="544.1" y1="795.4" y2="795.4" class="rd"/>
<line x1="453.6" x2="544.1" y1="822.1" y2="822.1" class="rd"/>
<line x1="453.5" x2="544.5" y1="771.5" y2="771.5" stroke="#333333" stroke-width="1.0"/>
<line x1="544.5" x2="544.5" y1="771.5" y2="846.5" stroke="#333333" stroke-width="1.0"/>
<line x1="453.5" x2="453.5" y1="771.5" y2="846.5" stroke="#333333" stroke-width="1.0"/>
<line x1="453" x2="545" y1="846.5" y2="846.5" stroke="#333333" stroke-width="1.0"/>
<line x1="452.1" x2="453.6" y1="774.5" y2="774.5" class="tk"/>
<text x="451.8" y="776.75" class="yt" textLength="11.01" lengthAdjust="spacingAndGlyphs">150</text>
<line x1="452.1" x2="453.6" y1="791.88" y2="791.88" class="tk"/>
<text x="451.8" y="794.12" class="yt" textLength="11.01" lengthAdjust="spacingAndGlyphs">125</text>
<line x1="452.1" x2="453.6" y1="809.25" y2="809.25" class="tk"/>
<text x="451.8" y="811.5" class="yt" textLength="11.01" lengthAdjust="spacingAndGlyphs">100</text>
<line x1="452.1" x2="453.6" y1="826.62" y2="826.62" class="tk"/>
<text x="451.8" y="828.88" class="yt" textLength="7.34" lengthAdjust="spacingAndGlyphs">75</text>
<line x1="452.1" x2="453.6" y1="844" y2="844" class="tk"/>
<text x="451.8" y="846.25" class="yt" textLength="7.34" lengthAdjust="spacingAndGlyphs">50</text>
<line x1="498.85" x2="498.85" y1="846.5" y2="847.7" class="tk"/>
<text x="498.85" y="852.4" class="xt">0.3µM</text>
<text x="498.85" y="864.3" class="xa">Drug Concentration</text>
<text transform="translate(437.4 808.75) rotate(-90)" class="yl" textLength="21.94" lengthAdjust="spacingAndGlyphs">APD<tspan dy="1.7" font-size="5.78">90</tspan></text>
<path d="M498.85 805V809.5M495.15 805H502.55M495.15 809.5H502.55" class="ebD"/>
<ellipse cx="498.85" cy="807.2" rx="3.4" ry="3.55"/>
<text x="631.35" y="767.7" class="ti">Doxorubicin 24hr</text>
<line x1="585.3" x2="677.4" y1="811.3" y2="811.3" class="rd"/>
<line x1="585.3" x2="677.4" y1="829.3" y2="829.3" class="rd"/>
<line x1="585.5" x2="677.5" y1="771.5" y2="771.5" stroke="#333333" stroke-width="1.0"/>
<line x1="677.5" x2="677.5" y1="771.5" y2="846.5" stroke="#333333" stroke-width="1.0"/>
<line x1="585.5" x2="585.5" y1="771.5" y2="846.5" stroke="#333333" stroke-width="1.0"/>
<line x1="585" x2="678" y1="846.5" y2="846.5" stroke="#333333" stroke-width="1.0"/>
<line x1="583.8" x2="585.3" y1="774.5" y2="774.5" class="tk"/>
<text x="583.5" y="776.75" class="yt" textLength="11.01" lengthAdjust="spacingAndGlyphs">200</text>
<line x1="583.8" x2="585.3" y1="797.67" y2="797.67" class="tk"/>
<text x="583.5" y="799.92" class="yt" textLength="11.01" lengthAdjust="spacingAndGlyphs">150</text>
<line x1="583.8" x2="585.3" y1="820.83" y2="820.83" class="tk"/>
<text x="583.5" y="823.08" class="yt" textLength="11.01" lengthAdjust="spacingAndGlyphs">100</text>
<line x1="583.8" x2="585.3" y1="844" y2="844" class="tk"/>
<text x="583.5" y="846.25" class="yt" textLength="7.34" lengthAdjust="spacingAndGlyphs">50</text>
<line x1="631.35" x2="631.35" y1="846.5" y2="847.7" class="tk"/>
<text x="631.35" y="852.4" class="xt">0.3µM</text>
<text x="631.35" y="864.3" class="xa">Drug Concentration</text>
<text transform="translate(570.4 808.75) rotate(-90)" class="yl" textLength="20.37" lengthAdjust="spacingAndGlyphs">TRise</text>
<path d="M631.35 798.6V814.4M627.35 798.6H635.35M627.35 814.4H635.35" class="ebD"/>
<ellipse cx="631.35" cy="806.4" rx="3.4" ry="3.55"/>
<text x="108.1" y="889.8" class="ti">Doxorubicin 24hr</text>
<line x1="61.9" x2="154.3" y1="917.2" y2="917.2" class="rd"/>
<line x1="61.9" x2="154.3" y1="944.2" y2="944.2" class="rd"/>
<line x1="154.5" x2="154.5" y1="893.5" y2="968.5" stroke="#7c7c7c" stroke-width="1.0"/>
<line x1="61.5" x2="61.5" y1="893.5" y2="968.5" stroke="#b0b0b0" stroke-width="1.0"/>
<line x1="61" x2="155" y1="968.5" y2="968.5" stroke="#333333" stroke-width="1.0"/>
<line x1="60.4" x2="61.9" y1="896.8" y2="896.8" class="tk"/>
<text x="60.1" y="899.05" class="yt" textLength="11.01" lengthAdjust="spacingAndGlyphs">150</text>
<line x1="60.4" x2="61.9" y1="914.02" y2="914.02" class="tk"/>
<text x="60.1" y="916.27" class="yt" textLength="11.01" lengthAdjust="spacingAndGlyphs">125</text>
<line x1="60.4" x2="61.9" y1="931.25" y2="931.25" class="tk"/>
<text x="60.1" y="933.5" class="yt" textLength="11.01" lengthAdjust="spacingAndGlyphs">100</text>
<line x1="60.4" x2="61.9" y1="948.48" y2="948.48" class="tk"/>
<text x="60.1" y="950.73" class="yt" textLength="7.34" lengthAdjust="spacingAndGlyphs">75</text>
<line x1="60.4" x2="61.9" y1="965.7" y2="965.7" class="tk"/>
<text x="60.1" y="967.95" class="yt" textLength="7.34" lengthAdjust="spacingAndGlyphs">50</text>
<line x1="108.1" x2="108.1" y1="968.3" y2="969.5" class="tk"/>
<text x="108.1" y="974.2" class="xt">0.3µM</text>
<text x="108.1" y="986.1" class="xa">Drug Concentration</text>
<text transform="translate(45.6 930.7) rotate(-90)" class="yl" textLength="44.8" lengthAdjust="spacingAndGlyphs">Triangulation</text>
<path d="M108.1 915.6V923.4M104.5 915.6H111.7M104.5 923.4H111.7" class="ebD"/>
<ellipse cx="108.1" cy="919.7" rx="3.4" ry="3.55"/>
<polygon points="107.75,908.45 108.34,909.79 109.79,909.94 108.70,910.91 109.01,912.34 107.75,911.60 106.49,912.34 106.80,910.91 105.71,909.94 107.16,909.79" class="sp"/>
<text x="231.75" y="889.8" class="ti">Doxorubicin 24hr</text>
<line x1="185.8" x2="277.7" y1="917.2" y2="917.2" class="rd"/>
<line x1="185.8" x2="277.7" y1="944.2" y2="944.2" class="rd"/>
<line x1="277.5" x2="277.5" y1="893.5" y2="968.5" stroke="#333333" stroke-width="1.0"/>
<line x1="185.5" x2="185.5" y1="893.5" y2="968.5" stroke="#333333" stroke-width="1.0"/>
<line x1="185" x2="278" y1="968.5" y2="968.5" stroke="#333333" stroke-width="1.0"/>
<line x1="184.3" x2="185.8" y1="896.4" y2="896.4" class="tk"/>
<text x="184" y="898.65" class="yt" textLength="11.01" lengthAdjust="spacingAndGlyphs">150</text>
<line x1="184.3" x2="185.8" y1="913.73" y2="913.73" class="tk"/>
<text x="184" y="915.98" class="yt" textLength="11.01" lengthAdjust="spacingAndGlyphs">125</text>
<line x1="184.3" x2="185.8" y1="931.05" y2="931.05" class="tk"/>
<text x="184" y="933.3" class="yt" textLength="11.01" lengthAdjust="spacingAndGlyphs">100</text>
<line x1="184.3" x2="185.8" y1="948.38" y2="948.38" class="tk"/>
<text x="184" y="950.62" class="yt" textLength="7.34" lengthAdjust="spacingAndGlyphs">75</text>
<line x1="184.3" x2="185.8" y1="965.7" y2="965.7" class="tk"/>
<text x="184" y="967.95" class="yt" textLength="7.34" lengthAdjust="spacingAndGlyphs">50</text>
<line x1="231.75" x2="231.75" y1="968.3" y2="969.5" class="tk"/>
<text x="231.75" y="974.2" class="xt">0.3µM</text>
<text x="231.75" y="986.1" class="xa">Drug Concentration</text>
<text transform="translate(170.8 930.7) rotate(-90)" class="yl" textLength="57.22" lengthAdjust="spacingAndGlyphs">Diastolic Interval</text>
<path d="M231.75 934.8V942.4M227.75 934.8H235.75M227.75 942.4H235.75" class="ebD"/>
<ellipse cx="231.75" cy="938.7" rx="3.4" ry="3.55"/>
<text x="356.75" y="889.8" class="ti">Doxorubicin 24Hr</text>
<line x1="402.5" x2="402.5" y1="893.5" y2="968.5" stroke="#333333" stroke-width="1.0"/>
<line x1="311.5" x2="311.5" y1="893.5" y2="968.5" stroke="#b0b0b0" stroke-width="1.0"/>
<line x1="311" x2="403" y1="968.5" y2="968.5" stroke="#333333" stroke-width="1.0"/>
<line x1="309.5" x2="311" y1="896.4" y2="896.4" class="tk"/>
<text x="309.2" y="898.65" class="yt" textLength="11.01" lengthAdjust="spacingAndGlyphs">200</text>
<line x1="309.5" x2="311" y1="919.57" y2="919.57" class="tk"/>
<text x="309.2" y="921.82" class="yt" textLength="11.01" lengthAdjust="spacingAndGlyphs">150</text>
<line x1="309.5" x2="311" y1="942.73" y2="942.73" class="tk"/>
<text x="309.2" y="944.98" class="yt" textLength="11.01" lengthAdjust="spacingAndGlyphs">100</text>
<line x1="309.5" x2="311" y1="965.9" y2="965.9" class="tk"/>
<text x="309.2" y="968.15" class="yt" textLength="7.34" lengthAdjust="spacingAndGlyphs">50</text>
<line x1="356.75" x2="356.75" y1="968.3" y2="969.5" class="tk"/>
<text x="356.75" y="974.2" class="xt">0.3µM</text>
<text x="356.75" y="986.1" class="xa">Drug Concentration</text>
<text transform="translate(294.5 930.7) rotate(-90)" class="yl" textLength="23.84" lengthAdjust="spacingAndGlyphs">CtAmp</text>
<path d="M356.75 914.6V938.3M352.75 914.6H360.75M352.75 938.3H360.75" class="ebD"/>
<ellipse cx="356.75" cy="926.4" rx="3.4" ry="3.55"/>
<text x="500.8" y="889.8" class="ti">Doxorubicin 24Hr</text>
<line x1="547.5" x2="547.5" y1="893.5" y2="968.5" stroke="#333333" stroke-width="1.0"/>
<line x1="454.5" x2="454.5" y1="893.5" y2="968.5" stroke="#333333" stroke-width="1.0"/>
<line x1="454" x2="548" y1="968.5" y2="968.5" stroke="#333333" stroke-width="1.0"/>
<line x1="453.1" x2="454.6" y1="896.4" y2="896.4" class="tk"/>
<text x="452.8" y="898.65" class="yt" textLength="11.01" lengthAdjust="spacingAndGlyphs">150</text>
<line x1="453.1" x2="454.6" y1="913.73" y2="913.73" class="tk"/>
<text x="452.8" y="915.98" class="yt" textLength="11.01" lengthAdjust="spacingAndGlyphs">125</text>
<line x1="453.1" x2="454.6" y1="931.05" y2="931.05" class="tk"/>
<text x="452.8" y="933.3" class="yt" textLength="11.01" lengthAdjust="spacingAndGlyphs">100</text>
<line x1="453.1" x2="454.6" y1="948.38" y2="948.38" class="tk"/>
<text x="452.8" y="950.62" class="yt" textLength="7.34" lengthAdjust="spacingAndGlyphs">75</text>
<line x1="453.1" x2="454.6" y1="965.7" y2="965.7" class="tk"/>
<text x="452.8" y="967.95" class="yt" textLength="7.34" lengthAdjust="spacingAndGlyphs">50</text>
<line x1="500.8" x2="500.8" y1="968.3" y2="969.5" class="tk"/>
<text x="500.8" y="974.2" class="xt">0.3µM</text>
<text x="500.8" y="986.1" class="xa">Drug Concentration</text>
<text transform="translate(439.5 930.7) rotate(-90)" class="yl" textLength="24.84" lengthAdjust="spacingAndGlyphs">CtTrise</text>
<path d="M500.8 917.4V928.3M496.8 917.4H504.8M496.8 928.3H504.8" class="ebD"/>
<ellipse cx="500.8" cy="922.7" rx="3.4" ry="3.55"/>
<text x="630.85" y="889.8" class="ti">Doxorubicin 24Hr</text>
<line x1="675.5" x2="675.5" y1="893.5" y2="968.5" stroke="#b0b0b0" stroke-width="1.0"/>
<line x1="585.5" x2="585.5" y1="893.5" y2="968.5" stroke="#333333" stroke-width="1.0"/>
<line x1="585" x2="676" y1="968.5" y2="968.5" stroke="#333333" stroke-width="1.0"/>
<line x1="584.4" x2="585.9" y1="896.4" y2="896.4" class="tk"/>
<text x="584.1" y="898.65" class="yt" textLength="11.01" lengthAdjust="spacingAndGlyphs">150</text>
<line x1="584.4" x2="585.9" y1="913.73" y2="913.73" class="tk"/>
<text x="584.1" y="915.98" class="yt" textLength="11.01" lengthAdjust="spacingAndGlyphs">125</text>
<line x1="584.4" x2="585.9" y1="931.05" y2="931.05" class="tk"/>
<text x="584.1" y="933.3" class="yt" textLength="11.01" lengthAdjust="spacingAndGlyphs">100</text>
<line x1="584.4" x2="585.9" y1="948.38" y2="948.38" class="tk"/>
<text x="584.1" y="950.62" class="yt" textLength="7.34" lengthAdjust="spacingAndGlyphs">75</text>
<line x1="584.4" x2="585.9" y1="965.7" y2="965.7" class="tk"/>
<text x="584.1" y="967.95" class="yt" textLength="7.34" lengthAdjust="spacingAndGlyphs">50</text>
<line x1="630.85" x2="630.85" y1="968.3" y2="969.5" class="tk"/>
<text x="630.85" y="974.2" class="xt">0.3µM</text>
<text x="630.85" y="986.1" class="xa">Drug Concentration</text>
<text transform="translate(569.1 930.7) rotate(-90)" class="yl" textLength="19.33" lengthAdjust="spacingAndGlyphs">CtD<tspan dy="1.7" font-size="5.78">50</tspan></text>
<ellipse cx="630.85" cy="938.7" rx="3.4" ry="3.55"/>
<polygon points="628.10,929.85 628.69,931.19 630.14,931.34 629.05,932.31 629.36,933.74 628.10,933.00 626.84,933.74 627.15,932.31 626.06,931.34 627.51,931.19" class="sp"/>
<polygon points="632.90,929.85 633.49,931.19 634.94,931.34 633.85,932.31 634.16,933.74 632.90,933.00 631.64,933.74 631.95,932.31 630.86,931.34 632.31,931.19" class="sp"/>
</svg>
</body></html>
